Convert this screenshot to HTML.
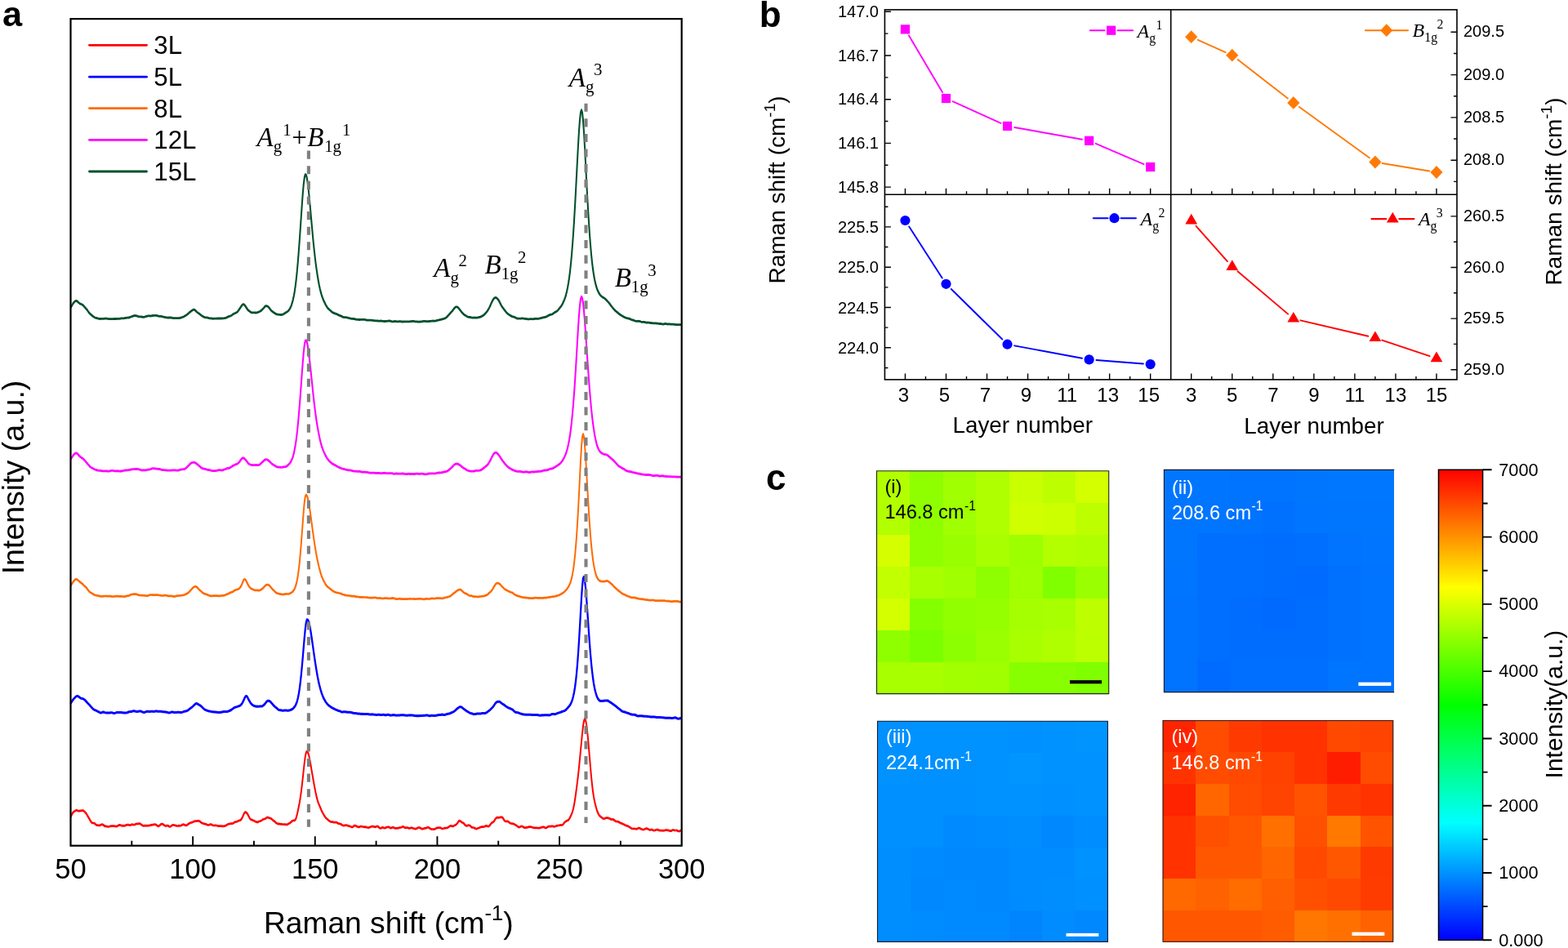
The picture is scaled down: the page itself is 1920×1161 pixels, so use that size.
<!DOCTYPE html>
<html lang="en"><head><meta charset="utf-8"><title>Layer-dependent Raman spectra</title>
<style>html,body{margin:0;padding:0;background:#fff;}body{width:1920px;height:1161px;overflow:hidden;}svg{display:block;}text{white-space:pre;}</style>
</head><body>
<svg width="1920" height="1161" viewBox="0 0 1920 1161">
<rect width="1920" height="1161" fill="#fff"/>
<g id="panel-a">
<path d="M86.5,376.3 87.5,374.6 88.5,372.9 89.5,371.2 90.5,370.0 91.5,368.9 92.5,368.3 93.5,368.0 94.5,368.5 95.5,369.4 96.5,370.5 97.5,371.2 98.5,371.7 99.5,372.1 100.5,372.6 101.5,373.3 102.5,374.3 103.5,375.5 104.5,376.6 105.5,377.7 106.5,378.8 107.4,380.2 108.4,381.7 109.4,383.0 110.4,384.0 111.4,384.9 112.4,385.7 113.4,386.6 114.4,387.3 115.4,388.0 116.4,388.6 117.4,388.9 118.4,389.1 119.4,389.4 120.4,389.8 121.4,390.0 122.4,390.1 123.4,389.9 124.4,389.9 125.4,390.0 126.4,390.0 127.4,389.9 128.4,389.7 129.4,389.6 130.4,389.8 131.4,389.9 132.4,390.0 133.4,390.2 134.4,390.3 135.4,390.3 136.4,390.3 137.4,390.3 138.4,390.2 139.4,390.1 140.4,390.1 141.4,390.1 142.4,390.1 143.4,390.0 144.4,390.0 145.4,390.0 146.4,390.0 147.4,389.7 148.4,389.5 149.3,389.4 150.3,389.4 151.3,389.4 152.3,389.3 153.3,389.1 154.3,388.9 155.3,388.8 156.3,388.8 157.3,388.6 158.3,388.4 159.3,388.0 160.3,387.6 161.3,387.3 162.3,386.9 163.3,386.5 164.3,386.2 165.3,386.1 166.3,386.2 167.3,386.4 168.3,386.8 169.3,387.2 170.3,387.4 171.3,387.5 172.3,387.5 173.3,387.6 174.3,387.8 175.3,388.0 176.3,387.9 177.3,387.6 178.3,387.3 179.3,387.0 180.3,386.8 181.3,386.5 182.3,386.5 183.3,386.5 184.3,386.6 185.3,386.5 186.3,386.3 187.3,386.1 188.3,386.0 189.3,386.0 190.3,386.0 191.2,386.0 192.2,386.1 193.2,386.4 194.2,386.7 195.2,386.9 196.2,386.9 197.2,387.0 198.2,387.2 199.2,387.5 200.2,387.7 201.2,387.9 202.2,388.1 203.2,388.4 204.2,388.5 205.2,388.7 206.2,388.6 207.2,388.6 208.2,388.5 209.2,388.6 210.2,388.8 211.2,389.1 212.2,389.2 213.2,389.3 214.2,389.3 215.2,389.3 216.2,389.2 217.2,389.2 218.2,389.2 219.2,389.3 220.2,389.1 221.2,388.8 222.2,388.4 223.2,388.1 224.2,387.8 225.2,387.3 226.2,386.7 227.2,386.1 228.2,385.5 229.2,384.7 230.2,383.9 231.2,383.0 232.1,382.1 233.1,381.3 234.1,380.6 235.1,379.9 236.1,379.2 237.1,378.8 238.1,378.9 239.1,379.7 240.1,380.7 241.1,381.7 242.1,382.5 243.1,383.2 244.1,383.9 245.1,384.7 246.1,385.5 247.1,386.3 248.1,386.9 249.1,387.5 250.1,388.0 251.1,388.3 252.1,388.4 253.1,388.4 254.1,388.6 255.1,388.9 256.1,389.3 257.1,389.5 258.1,389.5 259.1,389.6 260.1,389.7 261.1,389.9 262.1,389.8 263.1,389.7 264.1,389.7 265.1,389.7 266.1,389.6 267.1,389.5 268.1,389.6 269.1,389.6 270.1,389.6 271.1,389.6 272.1,389.5 273.1,389.5 274.0,389.4 275.0,389.3 276.0,389.0 277.0,388.7 278.0,388.3 279.0,387.7 280.0,387.2 281.0,386.9 282.0,386.6 283.0,386.1 284.0,385.5 285.0,384.7 286.0,384.1 287.0,383.6 288.0,383.1 289.0,382.6 290.0,382.1 291.0,381.2 292.0,379.9 293.0,378.4 294.0,376.9 295.0,375.3 296.0,373.8 297.0,372.6 298.0,372.2 299.0,372.7 300.0,373.8 301.0,375.3 302.0,376.9 303.0,378.5 304.0,379.6 305.0,380.4 306.0,381.1 307.0,381.8 308.0,382.4 309.0,382.5 310.0,382.5 311.0,382.4 312.0,382.5 313.0,382.6 314.0,382.6 315.0,382.3 315.9,382.0 316.9,381.6 317.9,381.2 318.9,380.6 319.9,379.8 320.9,379.0 321.9,377.9 322.9,376.8 323.9,375.5 324.9,374.6 325.9,374.2 326.9,374.4 327.9,374.9 328.9,375.8 329.9,377.0 330.9,378.4 331.9,379.7 332.9,380.6 333.9,381.3 334.9,382.1 335.9,382.8 336.9,383.5 337.9,384.0 338.9,384.4 339.9,384.7 340.9,384.8 341.9,384.9 342.9,385.0 343.9,385.1 344.9,385.1 345.9,384.8 346.9,384.4 347.9,383.8 348.9,383.1 349.9,382.4 350.9,381.9 351.9,381.3 352.9,380.4 353.9,379.2 354.9,377.7 355.9,375.8 356.8,373.5 357.8,370.4 358.8,366.7 359.8,362.0 360.8,356.4 361.8,349.4 362.8,341.0 363.8,331.3 364.8,320.1 365.8,307.6 366.8,293.9 367.8,279.4 368.8,264.5 369.8,249.9 370.8,236.4 371.8,225.0 372.8,217.0 373.8,213.2 374.8,213.8 375.8,217.5 376.8,223.9 377.8,232.3 378.8,242.1 379.8,252.9 380.8,264.3 381.8,275.7 382.8,286.7 383.8,297.1 384.8,306.6 385.8,315.5 386.8,323.5 387.8,330.9 388.8,337.5 389.8,343.5 390.8,348.8 391.8,353.4 392.8,357.4 393.8,360.8 394.8,363.9 395.8,366.5 396.8,368.8 397.8,370.8 398.7,372.7 399.7,374.4 400.7,376.0 401.7,377.3 402.7,378.3 403.7,379.2 404.7,380.0 405.7,381.0 406.7,381.9 407.7,382.5 408.7,383.0 409.7,383.3 410.7,383.7 411.7,384.0 412.7,384.4 413.7,385.0 414.7,385.5 415.7,385.9 416.7,386.3 417.7,386.7 418.7,387.2 419.7,387.7 420.7,388.1 421.7,388.2 422.7,388.2 423.7,388.3 424.7,388.4 425.7,388.7 426.7,389.0 427.7,389.2 428.7,389.4 429.7,389.7 430.7,389.9 431.7,390.0 432.7,390.1 433.7,390.1 434.7,390.4 435.7,390.6 436.7,390.9 437.7,391.0 438.7,391.0 439.7,391.1 440.6,391.1 441.6,391.0 442.6,390.9 443.6,391.0 444.6,391.0 445.6,391.0 446.6,391.0 447.6,391.2 448.6,391.6 449.6,391.8 450.6,391.7 451.6,391.7 452.6,391.7 453.6,391.8 454.6,391.8 455.6,391.9 456.6,392.0 457.6,392.2 458.6,392.3 459.6,392.4 460.6,392.4 461.6,392.5 462.6,392.6 463.6,392.7 464.6,392.7 465.6,392.7 466.6,392.6 467.6,392.7 468.6,392.9 469.6,393.0 470.6,393.1 471.6,393.1 472.6,393.0 473.6,392.9 474.6,392.8 475.6,392.7 476.6,392.6 477.6,392.6 478.6,392.9 479.6,393.2 480.6,393.4 481.5,393.4 482.5,393.2 483.5,393.1 484.5,393.2 485.5,393.3 486.5,393.4 487.5,393.4 488.5,393.3 489.5,393.3 490.5,393.3 491.5,393.5 492.5,393.6 493.5,393.6 494.5,393.5 495.5,393.4 496.5,393.4 497.5,393.4 498.5,393.5 499.5,393.5 500.5,393.5 501.5,393.4 502.5,393.3 503.5,393.2 504.5,393.1 505.5,393.0 506.5,393.0 507.5,393.2 508.5,393.4 509.5,393.5 510.5,393.5 511.5,393.6 512.5,393.7 513.5,393.7 514.5,393.6 515.5,393.5 516.5,393.4 517.5,393.2 518.5,393.0 519.5,392.9 520.5,392.9 521.5,393.1 522.5,393.2 523.4,393.3 524.4,393.2 525.4,393.1 526.4,393.0 527.4,392.9 528.4,392.8 529.4,392.7 530.4,392.6 531.4,392.7 532.4,392.8 533.4,392.6 534.4,392.3 535.4,391.9 536.4,391.7 537.4,391.6 538.4,391.3 539.4,391.1 540.4,390.8 541.4,390.6 542.4,390.3 543.4,390.0 544.4,389.6 545.4,389.2 546.4,388.5 547.4,387.6 548.4,386.5 549.4,385.4 550.4,384.2 551.4,383.1 552.4,382.0 553.4,380.9 554.4,379.7 555.4,378.3 556.4,377.0 557.4,376.0 558.4,375.4 559.4,375.4 560.4,375.9 561.4,376.8 562.4,378.0 563.4,379.3 564.4,380.6 565.3,381.8 566.3,383.0 567.3,384.0 568.3,384.9 569.3,385.6 570.3,386.2 571.3,386.9 572.3,387.4 573.3,387.8 574.3,387.9 575.3,388.1 576.3,388.3 577.3,388.5 578.3,388.7 579.3,388.7 580.3,388.7 581.3,388.6 582.3,388.7 583.3,388.8 584.3,388.7 585.3,388.4 586.3,388.1 587.3,388.0 588.3,387.7 589.3,387.2 590.3,386.7 591.3,386.1 592.3,385.5 593.3,384.5 594.3,383.5 595.3,382.3 596.3,381.1 597.3,379.6 598.3,378.0 599.3,376.1 600.3,374.0 601.3,371.6 602.3,369.4 603.3,367.4 604.3,365.8 605.3,364.7 606.2,364.2 607.2,364.1 608.2,364.7 609.2,365.5 610.2,366.8 611.2,368.4 612.2,370.4 613.2,372.4 614.2,374.2 615.2,375.8 616.2,377.1 617.2,378.5 618.2,379.8 619.2,381.1 620.2,382.3 621.2,383.4 622.2,384.2 623.2,384.9 624.2,385.5 625.2,386.2 626.2,386.7 627.2,387.2 628.2,387.5 629.2,387.7 630.2,388.0 631.2,388.6 632.2,389.2 633.2,389.6 634.2,389.7 635.2,389.7 636.2,389.8 637.2,389.8 638.2,389.7 639.2,389.5 640.2,389.5 641.2,389.7 642.2,389.9 643.2,390.0 644.2,390.1 645.2,390.2 646.2,390.4 647.2,390.5 648.1,390.4 649.1,390.2 650.1,390.2 651.1,390.3 652.1,390.4 653.1,390.3 654.1,390.1 655.1,389.9 656.1,389.8 657.1,389.9 658.1,389.9 659.1,389.9 660.1,389.7 661.1,389.5 662.1,389.2 663.1,388.9 664.1,388.6 665.1,388.5 666.1,388.3 667.1,388.1 668.1,387.8 669.1,387.5 670.1,386.9 671.1,386.3 672.1,385.7 673.1,385.2 674.1,384.9 675.1,384.7 676.1,384.4 677.1,383.8 678.1,383.0 679.1,382.3 680.1,381.7 681.1,381.2 682.1,380.6 683.1,379.6 684.1,378.4 685.1,377.1 686.1,375.8 687.1,374.6 688.1,373.0 689.1,371.2 690.0,369.0 691.0,366.8 692.0,364.1 693.0,360.8 694.0,356.7 695.0,352.0 696.0,346.5 697.0,340.0 698.0,332.1 699.0,322.7 700.0,311.8 701.0,299.6 702.0,285.7 703.0,270.1 704.0,252.8 705.0,234.2 706.0,214.9 707.0,195.5 708.0,176.7 709.0,159.9 710.0,146.3 711.0,137.4 712.0,134.3 713.0,137.5 714.0,147.0 715.0,161.3 716.0,179.2 717.0,198.4 718.0,218.2 719.0,237.2 720.0,255.0 721.0,271.4 722.0,286.3 723.0,299.6 724.0,311.1 725.0,320.9 726.0,329.0 727.0,335.8 728.0,341.4 729.0,346.1 730.0,349.9 730.9,352.9 731.9,355.5 732.9,357.6 733.9,359.4 734.9,360.8 735.9,361.9 736.9,362.8 737.9,363.5 738.9,364.1 739.9,364.7 740.9,365.5 741.9,366.4 742.9,367.5 743.9,368.6 744.9,369.6 745.9,370.8 746.9,372.1 747.9,373.6 748.9,374.9 749.9,376.1 750.9,377.3 751.9,378.5 752.9,379.6 753.9,380.5 754.9,381.3 755.9,382.1 756.9,383.0 757.9,383.9 758.9,384.6 759.9,385.3 760.9,385.9 761.9,386.5 762.9,387.1 763.9,387.7 764.9,388.2 765.9,388.6 766.9,389.0 767.9,389.3 768.9,389.6 769.9,389.7 770.9,390.0 771.9,390.5 772.8,390.9 773.8,391.2 774.8,391.6 775.8,391.8 776.8,392.3 777.8,392.6 778.8,392.9 779.8,393.0 780.8,392.9 781.8,392.8 782.8,392.9 783.8,393.2 784.8,393.6 785.8,393.9 786.8,393.9 787.8,394.0 788.8,394.0 789.8,394.3 790.8,394.6 791.8,394.7 792.8,394.6 793.8,394.7 794.8,394.8 795.8,394.9 796.8,395.1 797.8,395.3 798.8,395.3 799.8,395.4 800.8,395.4 801.8,395.5 802.8,395.5 803.8,395.6 804.8,395.7 805.8,395.8 806.8,395.9 807.8,396.1 808.8,396.1 809.8,396.3 810.8,396.5 811.8,396.7 812.8,396.5 813.8,396.3 814.7,396.1 815.7,396.3 816.7,396.5 817.7,396.6 818.7,396.5 819.7,396.5 820.7,396.6 821.7,396.7 822.7,396.7 823.7,396.7 824.7,396.7 825.7,396.9 826.7,397.0 827.7,397.2 828.7,397.3 829.7,397.3 830.7,397.2 831.7,397.2 832.7,397.2 833.7,397.2 834.7,397.2 M86.5,377.1 87.5,375.4 88.5,373.7 89.5,372.0 90.5,370.8 91.5,369.7 92.5,369.1 93.5,368.8 94.5,369.3 95.5,370.2 96.5,371.3 97.5,372.0 98.5,372.5 99.5,372.9 100.5,373.4 101.5,374.1 102.5,375.1 103.5,376.3 104.5,377.4 105.5,378.5 106.5,379.6 107.4,381.0 108.4,382.5 109.4,383.8 110.4,384.8 111.4,385.7 112.4,386.5 113.4,387.4 114.4,388.1 115.4,388.8 116.4,389.4 117.4,389.7 118.4,389.9 119.4,390.2 120.4,390.6 121.4,390.8 122.4,390.9 123.4,390.7 124.4,390.7 125.4,390.8 126.4,390.8 127.4,390.7 128.4,390.5 129.4,390.4 130.4,390.6 131.4,390.7 132.4,390.8 133.4,391.0 134.4,391.1 135.4,391.1 136.4,391.1 137.4,391.1 138.4,391.0 139.4,390.9 140.4,390.9 141.4,390.9 142.4,390.9 143.4,390.8 144.4,390.8 145.4,390.8 146.4,390.8 147.4,390.5 148.4,390.3 149.3,390.2 150.3,390.2 151.3,390.2 152.3,390.1 153.3,389.9 154.3,389.7 155.3,389.6 156.3,389.6 157.3,389.4 158.3,389.2 159.3,388.8 160.3,388.4 161.3,388.1 162.3,387.7 163.3,387.3 164.3,387.0 165.3,386.9 166.3,387.0 167.3,387.2 168.3,387.6 169.3,388.0 170.3,388.2 171.3,388.3 172.3,388.3 173.3,388.4 174.3,388.6 175.3,388.8 176.3,388.7 177.3,388.4 178.3,388.1 179.3,387.8 180.3,387.6 181.3,387.3 182.3,387.3 183.3,387.3 184.3,387.4 185.3,387.3 186.3,387.1 187.3,386.9 188.3,386.8 189.3,386.8 190.3,386.8 191.2,386.8 192.2,386.9 193.2,387.2 194.2,387.5 195.2,387.7 196.2,387.7 197.2,387.8 198.2,388.0 199.2,388.3 200.2,388.5 201.2,388.7 202.2,388.9 203.2,389.2 204.2,389.3 205.2,389.5 206.2,389.4 207.2,389.4 208.2,389.3 209.2,389.4 210.2,389.6 211.2,389.9 212.2,390.0 213.2,390.1 214.2,390.1 215.2,390.1 216.2,390.0 217.2,390.0 218.2,390.0 219.2,390.1 220.2,389.9 221.2,389.6 222.2,389.2 223.2,388.9 224.2,388.6 225.2,388.1 226.2,387.5 227.2,386.9 228.2,386.3 229.2,385.5 230.2,384.7 231.2,383.8 232.1,382.9 233.1,382.1 234.1,381.4 235.1,380.7 236.1,380.0 237.1,379.6 238.1,379.7 239.1,380.5 240.1,381.5 241.1,382.5 242.1,383.3 243.1,384.0 244.1,384.7 245.1,385.5 246.1,386.3 247.1,387.1 248.1,387.7 249.1,388.3 250.1,388.8 251.1,389.1 252.1,389.2 253.1,389.2 254.1,389.4 255.1,389.7 256.1,390.1 257.1,390.3 258.1,390.3 259.1,390.4 260.1,390.5 261.1,390.7 262.1,390.6 263.1,390.5 264.1,390.5 265.1,390.5 266.1,390.4 267.1,390.3 268.1,390.4 269.1,390.4 270.1,390.4 271.1,390.4 272.1,390.3 273.1,390.3 274.0,390.2 275.0,390.1 276.0,389.8 277.0,389.5 278.0,389.1 279.0,388.5 280.0,388.0 281.0,387.7 282.0,387.4 283.0,386.9 284.0,386.3 285.0,385.5 286.0,384.9 287.0,384.4 288.0,383.9 289.0,383.4 290.0,382.9 291.0,382.0 292.0,380.7 293.0,379.2 294.0,377.7 295.0,376.1 296.0,374.6 297.0,373.4 298.0,373.0 299.0,373.5 300.0,374.6 301.0,376.1 302.0,377.7 303.0,379.3 304.0,380.4 305.0,381.2 306.0,381.9 307.0,382.6 308.0,383.2 309.0,383.3 310.0,383.3 311.0,383.2 312.0,383.3 313.0,383.4 314.0,383.4 315.0,383.1 315.9,382.8 316.9,382.4 317.9,382.0 318.9,381.4 319.9,380.6 320.9,379.8 321.9,378.7 322.9,377.6 323.9,376.3 324.9,375.4 325.9,375.0 326.9,375.2 327.9,375.7 328.9,376.6 329.9,377.8 330.9,379.2 331.9,380.5 332.9,381.4 333.9,382.1 334.9,382.9 335.9,383.6 336.9,384.3 337.9,384.8 338.9,385.2 339.9,385.5 340.9,385.6 341.9,385.7 342.9,385.8 343.9,385.9 344.9,385.9 345.9,385.6 346.9,385.2 347.9,384.6 348.9,383.9 349.9,383.2 350.9,382.7 351.9,382.1 352.9,381.2 353.9,380.0 354.9,378.5 355.9,376.6 356.8,374.3 357.8,371.2 358.8,367.5 359.8,362.8 360.8,357.2 361.8,350.2 362.8,341.8 363.8,332.1 364.8,320.9 365.8,308.4 366.8,294.7 367.8,280.2 368.8,265.3 369.8,250.7 370.8,237.2 371.8,225.8 372.8,217.8 373.8,214.0 374.8,214.6 375.8,218.3 376.8,224.7 377.8,233.1 378.8,242.9 379.8,253.7 380.8,265.1 381.8,276.5 382.8,287.5 383.8,297.9 384.8,307.4 385.8,316.3 386.8,324.3 387.8,331.7 388.8,338.3 389.8,344.3 390.8,349.6 391.8,354.2 392.8,358.2 393.8,361.6 394.8,364.7 395.8,367.3 396.8,369.6 397.8,371.6 398.7,373.5 399.7,375.2 400.7,376.8 401.7,378.1 402.7,379.1 403.7,380.0 404.7,380.8 405.7,381.8 406.7,382.7 407.7,383.3 408.7,383.8 409.7,384.1 410.7,384.5 411.7,384.8 412.7,385.2 413.7,385.8 414.7,386.3 415.7,386.7 416.7,387.1 417.7,387.5 418.7,388.0 419.7,388.5 420.7,388.9 421.7,389.0 422.7,389.0 423.7,389.1 424.7,389.2 425.7,389.5 426.7,389.8 427.7,390.0 428.7,390.2 429.7,390.5 430.7,390.7 431.7,390.8 432.7,390.9 433.7,390.9 434.7,391.2 435.7,391.4 436.7,391.7 437.7,391.8 438.7,391.8 439.7,391.9 440.6,391.9 441.6,391.8 442.6,391.7 443.6,391.8 444.6,391.8 445.6,391.8 446.6,391.8 447.6,392.0 448.6,392.4 449.6,392.6 450.6,392.5 451.6,392.5 452.6,392.5 453.6,392.6 454.6,392.6 455.6,392.7 456.6,392.8 457.6,393.0 458.6,393.1 459.6,393.2 460.6,393.2 461.6,393.3 462.6,393.4 463.6,393.5 464.6,393.5 465.6,393.5 466.6,393.4 467.6,393.5 468.6,393.7 469.6,393.8 470.6,393.9 471.6,393.9 472.6,393.8 473.6,393.7 474.6,393.6 475.6,393.5 476.6,393.4 477.6,393.4 478.6,393.7 479.6,394.0 480.6,394.2 481.5,394.2 482.5,394.0 483.5,393.9 484.5,394.0 485.5,394.1 486.5,394.2 487.5,394.2 488.5,394.1 489.5,394.1 490.5,394.1 491.5,394.3 492.5,394.4 493.5,394.4 494.5,394.3 495.5,394.2 496.5,394.2 497.5,394.2 498.5,394.3 499.5,394.3 500.5,394.3 501.5,394.2 502.5,394.1 503.5,394.0 504.5,393.9 505.5,393.8 506.5,393.8 507.5,394.0 508.5,394.2 509.5,394.3 510.5,394.3 511.5,394.4 512.5,394.5 513.5,394.5 514.5,394.4 515.5,394.3 516.5,394.2 517.5,394.0 518.5,393.8 519.5,393.7 520.5,393.7 521.5,393.9 522.5,394.0 523.4,394.1 524.4,394.0 525.4,393.9 526.4,393.8 527.4,393.7 528.4,393.6 529.4,393.5 530.4,393.4 531.4,393.5 532.4,393.6 533.4,393.4 534.4,393.1 535.4,392.7 536.4,392.5 537.4,392.4 538.4,392.1 539.4,391.9 540.4,391.6 541.4,391.4 542.4,391.1 543.4,390.8 544.4,390.4 545.4,390.0 546.4,389.3 547.4,388.4 548.4,387.3 549.4,386.2 550.4,385.0 551.4,383.9 552.4,382.8 553.4,381.7 554.4,380.5 555.4,379.1 556.4,377.8 557.4,376.8 558.4,376.2 559.4,376.2 560.4,376.7 561.4,377.6 562.4,378.8 563.4,380.1 564.4,381.4 565.3,382.6 566.3,383.8 567.3,384.8 568.3,385.7 569.3,386.4 570.3,387.0 571.3,387.7 572.3,388.2 573.3,388.6 574.3,388.7 575.3,388.9 576.3,389.1 577.3,389.3 578.3,389.5 579.3,389.5 580.3,389.5 581.3,389.4 582.3,389.5 583.3,389.6 584.3,389.5 585.3,389.2 586.3,388.9 587.3,388.8 588.3,388.5 589.3,388.0 590.3,387.5 591.3,386.9 592.3,386.3 593.3,385.3 594.3,384.3 595.3,383.1 596.3,381.9 597.3,380.4 598.3,378.8 599.3,376.9 600.3,374.8 601.3,372.4 602.3,370.2 603.3,368.2 604.3,366.6 605.3,365.5 606.2,365.0 607.2,364.9 608.2,365.5 609.2,366.3 610.2,367.6 611.2,369.2 612.2,371.2 613.2,373.2 614.2,375.0 615.2,376.6 616.2,377.9 617.2,379.3 618.2,380.6 619.2,381.9 620.2,383.1 621.2,384.2 622.2,385.0 623.2,385.7 624.2,386.3 625.2,387.0 626.2,387.5 627.2,388.0 628.2,388.3 629.2,388.5 630.2,388.8 631.2,389.4 632.2,390.0 633.2,390.4 634.2,390.5 635.2,390.5 636.2,390.6 637.2,390.6 638.2,390.5 639.2,390.3 640.2,390.3 641.2,390.5 642.2,390.7 643.2,390.8 644.2,390.9 645.2,391.0 646.2,391.2 647.2,391.3 648.1,391.2 649.1,391.0 650.1,391.0 651.1,391.1 652.1,391.2 653.1,391.1 654.1,390.9 655.1,390.7 656.1,390.6 657.1,390.7 658.1,390.7 659.1,390.7 660.1,390.5 661.1,390.3 662.1,390.0 663.1,389.7 664.1,389.4 665.1,389.3 666.1,389.1 667.1,388.9 668.1,388.6 669.1,388.3 670.1,387.7 671.1,387.1 672.1,386.5 673.1,386.0 674.1,385.7 675.1,385.5 676.1,385.2 677.1,384.6 678.1,383.8 679.1,383.1 680.1,382.5 681.1,382.0 682.1,381.4 683.1,380.4 684.1,379.2 685.1,377.9 686.1,376.6 687.1,375.4 688.1,373.8 689.1,372.0 690.0,369.8 691.0,367.6 692.0,364.9 693.0,361.6 694.0,357.5 695.0,352.8 696.0,347.3 697.0,340.8 698.0,332.9 699.0,323.5 700.0,312.6 701.0,300.4 702.0,286.5 703.0,270.9 704.0,253.6 705.0,235.0 706.0,215.7 707.0,196.3 708.0,177.5 709.0,160.7 710.0,147.1 711.0,138.2 712.0,135.1 713.0,138.3 714.0,147.8 715.0,162.1 716.0,180.0 717.0,199.2 718.0,219.0 719.0,238.0 720.0,255.8 721.0,272.2 722.0,287.1 723.0,300.4 724.0,311.9 725.0,321.7 726.0,329.8 727.0,336.6 728.0,342.2 729.0,346.9 730.0,350.7 730.9,353.7 731.9,356.3 732.9,358.4 733.9,360.2 734.9,361.6 735.9,362.7 736.9,363.6 737.9,364.3 738.9,364.9 739.9,365.5 740.9,366.3 741.9,367.2 742.9,368.3 743.9,369.4 744.9,370.4 745.9,371.6 746.9,372.9 747.9,374.4 748.9,375.7 749.9,376.9 750.9,378.1 751.9,379.3 752.9,380.4 753.9,381.3 754.9,382.1 755.9,382.9 756.9,383.8 757.9,384.7 758.9,385.4 759.9,386.1 760.9,386.7 761.9,387.3 762.9,387.9 763.9,388.5 764.9,389.0 765.9,389.4 766.9,389.8 767.9,390.1 768.9,390.4 769.9,390.5 770.9,390.8 771.9,391.3 772.8,391.7 773.8,392.0 774.8,392.4 775.8,392.6 776.8,393.1 777.8,393.4 778.8,393.7 779.8,393.8 780.8,393.7 781.8,393.6 782.8,393.7 783.8,394.0 784.8,394.4 785.8,394.7 786.8,394.7 787.8,394.8 788.8,394.8 789.8,395.1 790.8,395.4 791.8,395.5 792.8,395.4 793.8,395.5 794.8,395.6 795.8,395.7 796.8,395.9 797.8,396.1 798.8,396.1 799.8,396.2 800.8,396.2 801.8,396.3 802.8,396.3 803.8,396.4 804.8,396.5 805.8,396.6 806.8,396.7 807.8,396.9 808.8,396.9 809.8,397.1 810.8,397.3 811.8,397.5 812.8,397.3 813.8,397.1 814.7,396.9 815.7,397.1 816.7,397.3 817.7,397.4 818.7,397.3 819.7,397.3 820.7,397.4 821.7,397.5 822.7,397.5 823.7,397.5 824.7,397.5 825.7,397.7 826.7,397.8 827.7,398.0 828.7,398.1 829.7,398.1 830.7,398.0 831.7,398.0 832.7,398.0 833.7,398.0 834.7,398.0" fill="none" stroke="#00502d" stroke-width="2" stroke-linejoin="round"/>
<path d="M86.5,561.9 87.5,560.5 88.5,559.0 89.5,557.5 90.5,556.2 91.5,555.2 92.5,554.7 93.5,554.5 94.5,554.9 95.5,556.0 96.5,557.2 97.5,558.4 98.5,559.2 99.5,560.0 100.5,560.5 101.5,561.3 102.5,562.1 103.5,563.2 104.5,564.3 105.5,565.6 106.5,566.7 107.4,567.8 108.4,568.9 109.4,570.2 110.4,571.2 111.4,572.0 112.4,572.6 113.4,573.1 114.4,573.6 115.4,574.2 116.4,574.6 117.4,574.9 118.4,575.3 119.4,575.7 120.4,575.8 121.4,575.9 122.4,575.9 123.4,576.1 124.4,576.3 125.4,576.5 126.4,576.5 127.4,576.4 128.4,576.4 129.4,576.4 130.4,576.5 131.4,576.6 132.4,576.7 133.4,576.7 134.4,576.5 135.4,576.2 136.4,576.0 137.4,576.0 138.4,576.0 139.4,576.2 140.4,576.4 141.4,576.5 142.4,576.4 143.4,576.3 144.4,576.4 145.4,576.5 146.4,576.7 147.4,576.6 148.4,576.6 149.3,576.4 150.3,576.2 151.3,575.9 152.3,575.8 153.3,575.6 154.3,575.6 155.3,575.5 156.3,575.5 157.3,575.3 158.3,575.2 159.3,574.8 160.3,574.6 161.3,574.4 162.3,574.3 163.3,574.2 164.3,574.2 165.3,574.1 166.3,574.1 167.3,574.0 168.3,574.1 169.3,574.3 170.3,574.5 171.3,574.8 172.3,575.1 173.3,575.5 174.3,575.6 175.3,575.5 176.3,575.3 177.3,575.4 178.3,575.4 179.3,575.3 180.3,575.0 181.3,574.7 182.3,574.6 183.3,574.4 184.3,574.2 185.3,573.8 186.3,573.4 187.3,573.3 188.3,573.3 189.3,573.5 190.3,573.6 191.2,573.7 192.2,573.8 193.2,573.9 194.2,573.9 195.2,574.1 196.2,574.3 197.2,574.7 198.2,575.0 199.2,575.2 200.2,575.2 201.2,575.3 202.2,575.4 203.2,575.5 204.2,575.6 205.2,575.7 206.2,575.8 207.2,575.8 208.2,575.8 209.2,575.7 210.2,575.5 211.2,575.5 212.2,575.4 213.2,575.4 214.2,575.4 215.2,575.5 216.2,575.7 217.2,575.7 218.2,575.6 219.2,575.4 220.2,575.1 221.2,574.8 222.2,574.5 223.2,574.4 224.2,574.3 225.2,574.2 226.2,573.9 227.2,573.3 228.2,572.4 229.2,571.4 230.2,570.5 231.2,569.5 232.1,568.5 233.1,567.4 234.1,566.7 235.1,566.2 236.1,566.0 237.1,565.9 238.1,566.0 239.1,566.4 240.1,567.0 241.1,567.8 242.1,568.7 243.1,569.5 244.1,570.4 245.1,571.2 246.1,572.1 247.1,572.9 248.1,573.4 249.1,573.6 250.1,573.8 251.1,573.9 252.1,574.3 253.1,574.6 254.1,575.0 255.1,575.1 256.1,575.2 257.1,575.4 258.1,575.7 259.1,576.0 260.1,576.2 261.1,576.3 262.1,576.3 263.1,576.2 264.1,576.1 265.1,576.0 266.1,575.8 267.1,575.5 268.1,575.3 269.1,575.2 270.1,575.4 271.1,575.5 272.1,575.6 273.1,575.3 274.0,574.8 275.0,574.4 276.0,574.1 277.0,573.7 278.0,573.3 279.0,573.1 280.0,572.9 281.0,572.7 282.0,572.2 283.0,571.5 284.0,570.8 285.0,570.2 286.0,569.7 287.0,569.1 288.0,568.6 289.0,568.2 290.0,567.9 291.0,567.3 292.0,566.5 293.0,565.4 294.0,564.0 295.0,562.6 296.0,561.4 297.0,560.6 298.0,560.5 299.0,561.0 300.0,561.9 301.0,563.1 302.0,564.4 303.0,565.7 304.0,566.9 305.0,567.9 306.0,568.4 307.0,568.7 308.0,568.9 309.0,569.1 310.0,569.3 311.0,569.2 312.0,569.2 313.0,569.1 314.0,569.1 315.0,569.2 315.9,569.2 316.9,569.0 317.9,568.6 318.9,567.7 319.9,566.8 320.9,565.8 321.9,564.9 322.9,563.9 323.9,563.0 324.9,562.4 325.9,562.2 326.9,562.4 327.9,562.9 328.9,563.7 329.9,564.6 330.9,565.5 331.9,566.6 332.9,567.6 333.9,568.4 334.9,568.9 335.9,569.5 336.9,570.1 337.9,570.8 338.9,571.3 339.9,571.6 340.9,571.7 341.9,571.7 342.9,571.8 343.9,571.9 344.9,571.9 345.9,571.8 346.9,571.6 347.9,571.4 348.9,571.3 349.9,571.2 350.9,570.7 351.9,569.9 352.9,568.9 353.9,568.0 354.9,566.9 355.9,565.4 356.8,563.5 357.8,561.3 358.8,558.5 359.8,554.7 360.8,550.0 361.8,544.4 362.8,537.6 363.8,529.4 364.8,519.6 365.8,508.6 366.8,496.5 367.8,483.6 368.8,470.0 369.8,456.1 370.8,442.8 371.8,431.1 372.8,422.1 373.8,417.0 374.8,416.3 375.8,418.6 376.8,423.3 377.8,430.1 378.8,438.2 379.8,447.1 380.8,456.4 381.8,466.0 382.8,475.7 383.8,485.1 384.8,494.0 385.8,502.2 386.8,509.7 387.8,516.5 388.8,522.6 389.8,528.2 390.8,533.3 391.8,538.0 392.8,542.0 393.8,545.6 394.8,548.6 395.8,551.3 396.8,553.6 397.8,555.7 398.7,557.6 399.7,559.4 400.7,561.0 401.7,562.4 402.7,563.6 403.7,564.7 404.7,565.6 405.7,566.6 406.7,567.3 407.7,568.0 408.7,568.5 409.7,569.0 410.7,569.5 411.7,570.1 412.7,570.7 413.7,571.3 414.7,571.8 415.7,572.2 416.7,572.6 417.7,573.1 418.7,573.4 419.7,573.7 420.7,573.9 421.7,574.2 422.7,574.5 423.7,574.7 424.7,575.0 425.7,575.2 426.7,575.4 427.7,575.5 428.7,575.5 429.7,575.7 430.7,575.9 431.7,576.2 432.7,576.5 433.7,576.7 434.7,576.8 435.7,576.8 436.7,576.9 437.7,577.0 438.7,576.9 439.7,576.8 440.6,576.9 441.6,577.2 442.6,577.6 443.6,577.7 444.6,577.8 445.6,577.7 446.6,577.8 447.6,577.8 448.6,577.9 449.6,578.0 450.6,578.2 451.6,578.4 452.6,578.6 453.6,578.7 454.6,578.7 455.6,578.8 456.6,578.8 457.6,578.8 458.6,578.8 459.6,578.9 460.6,579.0 461.6,579.0 462.6,578.9 463.6,578.9 464.6,579.0 465.6,579.2 466.6,579.2 467.6,579.2 468.6,579.0 469.6,578.9 470.6,578.8 471.6,578.9 472.6,579.2 473.6,579.3 474.6,579.3 475.6,579.3 476.6,579.3 477.6,579.3 478.6,579.2 479.6,579.2 480.6,579.3 481.5,579.7 482.5,579.9 483.5,579.8 484.5,579.6 485.5,579.5 486.5,579.6 487.5,579.7 488.5,579.7 489.5,579.8 490.5,579.7 491.5,579.7 492.5,579.5 493.5,579.6 494.5,579.7 495.5,580.0 496.5,580.2 497.5,580.2 498.5,580.1 499.5,579.9 500.5,579.8 501.5,579.9 502.5,580.1 503.5,580.1 504.5,580.0 505.5,579.9 506.5,580.1 507.5,580.1 508.5,580.0 509.5,579.7 510.5,579.7 511.5,579.8 512.5,580.0 513.5,580.0 514.5,580.0 515.5,579.8 516.5,579.8 517.5,579.8 518.5,580.0 519.5,580.2 520.5,580.4 521.5,580.4 522.5,580.3 523.4,580.0 524.4,579.7 525.4,579.6 526.4,579.5 527.4,579.5 528.4,579.5 529.4,579.5 530.4,579.5 531.4,579.5 532.4,579.5 533.4,579.4 534.4,579.1 535.4,578.8 536.4,578.7 537.4,578.6 538.4,578.6 539.4,578.5 540.4,578.4 541.4,578.1 542.4,577.9 543.4,577.7 544.4,577.5 545.4,577.3 546.4,577.1 547.4,576.8 548.4,576.2 549.4,575.4 550.4,574.4 551.4,573.5 552.4,572.7 553.4,571.8 554.4,570.8 555.4,569.6 556.4,568.6 557.4,568.0 558.4,567.7 559.4,567.6 560.4,567.8 561.4,568.2 562.4,568.7 563.4,569.4 564.4,570.2 565.3,571.1 566.3,571.9 567.3,572.5 568.3,573.1 569.3,573.6 570.3,574.3 571.3,575.0 572.3,575.6 573.3,576.0 574.3,576.2 575.3,576.5 576.3,576.7 577.3,576.7 578.3,576.8 579.3,576.8 580.3,576.8 581.3,576.4 582.3,576.0 583.3,575.9 584.3,575.9 585.3,576.0 586.3,575.9 587.3,575.8 588.3,575.4 589.3,575.0 590.3,574.4 591.3,573.6 592.3,572.8 593.3,572.0 594.3,571.2 595.3,570.4 596.3,569.4 597.3,568.4 598.3,567.0 599.3,565.3 600.3,563.4 601.3,561.4 602.3,559.4 603.3,557.5 604.3,555.8 605.3,554.7 606.2,553.9 607.2,553.9 608.2,554.3 609.2,555.1 610.2,556.2 611.2,557.5 612.2,559.0 613.2,560.6 614.2,562.1 615.2,563.6 616.2,564.9 617.2,566.2 618.2,567.5 619.2,568.6 620.2,569.7 621.2,570.7 622.2,571.6 623.2,572.4 624.2,573.0 625.2,573.6 626.2,574.2 627.2,574.7 628.2,575.2 629.2,575.6 630.2,576.0 631.2,576.4 632.2,576.6 633.2,576.9 634.2,576.9 635.2,576.9 636.2,576.9 637.2,577.1 638.2,577.3 639.2,577.5 640.2,577.7 641.2,577.8 642.2,577.7 643.2,577.5 644.2,577.3 645.2,577.4 646.2,577.8 647.2,578.1 648.1,578.1 649.1,578.0 650.1,577.7 651.1,577.5 652.1,577.5 653.1,577.6 654.1,577.5 655.1,577.4 656.1,577.3 657.1,577.3 658.1,577.1 659.1,577.0 660.1,576.8 661.1,576.9 662.1,576.8 663.1,576.7 664.1,576.3 665.1,575.9 666.1,575.6 667.1,575.6 668.1,575.6 669.1,575.5 670.1,575.3 671.1,574.9 672.1,574.5 673.1,574.1 674.1,573.8 675.1,573.6 676.1,573.4 677.1,573.0 678.1,572.5 679.1,571.9 680.1,571.3 681.1,570.7 682.1,570.0 683.1,569.3 684.1,568.6 685.1,567.8 686.1,567.0 687.1,565.9 688.1,564.6 689.1,563.1 690.0,561.5 691.0,559.6 692.0,557.4 693.0,554.9 694.0,551.9 695.0,548.2 696.0,543.8 697.0,538.5 698.0,532.3 699.0,525.0 700.0,516.3 701.0,506.2 702.0,494.7 703.0,481.7 704.0,467.2 705.0,451.4 706.0,434.5 707.0,417.3 708.0,400.7 709.0,385.8 710.0,373.8 711.0,365.8 712.0,362.9 713.0,364.8 714.0,370.7 715.0,380.2 716.0,392.5 717.0,406.4 718.0,421.0 719.0,435.7 720.0,450.1 721.0,464.0 722.0,477.1 723.0,489.2 724.0,499.9 725.0,509.4 726.0,517.7 727.0,524.9 728.0,531.2 729.0,536.5 730.0,541.0 730.9,544.7 731.9,547.5 732.9,549.7 733.9,551.5 734.9,552.9 735.9,553.9 736.9,554.7 737.9,555.1 738.9,555.6 739.9,556.0 740.9,556.2 741.9,556.3 742.9,556.6 743.9,557.2 744.9,558.0 745.9,558.9 746.9,559.7 747.9,560.6 748.9,561.5 749.9,562.3 750.9,563.2 751.9,564.2 752.9,565.3 753.9,566.4 754.9,567.5 755.9,568.6 756.9,569.7 757.9,570.6 758.9,571.2 759.9,571.8 760.9,572.4 761.9,573.0 762.9,573.5 763.9,574.0 764.9,574.6 765.9,575.4 766.9,576.1 767.9,576.4 768.9,576.6 769.9,576.9 770.9,577.1 771.9,577.3 772.8,577.5 773.8,577.8 774.8,578.1 775.8,578.4 776.8,578.4 777.8,578.6 778.8,578.9 779.8,579.3 780.8,579.4 781.8,579.6 782.8,579.8 783.8,580.1 784.8,580.3 785.8,580.5 786.8,580.7 787.8,580.7 788.8,580.9 789.8,581.0 790.8,581.1 791.8,581.1 792.8,581.1 793.8,581.1 794.8,581.1 795.8,581.2 796.8,581.5 797.8,581.8 798.8,582.1 799.8,582.2 800.8,582.2 801.8,582.1 802.8,582.0 803.8,581.8 804.8,581.9 805.8,582.1 806.8,582.4 807.8,582.8 808.8,582.7 809.8,582.5 810.8,582.3 811.8,582.4 812.8,582.6 813.8,582.9 814.7,583.0 815.7,583.1 816.7,583.1 817.7,583.2 818.7,583.2 819.7,583.2 820.7,583.2 821.7,583.3 822.7,583.4 823.7,583.5 824.7,583.5 825.7,583.4 826.7,583.4 827.7,583.5 828.7,583.7 829.7,583.8 830.7,583.8 831.7,583.8 832.7,583.8 833.7,583.8 834.7,583.9 M86.5,562.7 87.5,561.3 88.5,559.8 89.5,558.3 90.5,557.0 91.5,556.0 92.5,555.5 93.5,555.3 94.5,555.7 95.5,556.8 96.5,558.0 97.5,559.2 98.5,560.0 99.5,560.8 100.5,561.3 101.5,562.1 102.5,562.9 103.5,564.0 104.5,565.1 105.5,566.4 106.5,567.5 107.4,568.6 108.4,569.7 109.4,571.0 110.4,572.0 111.4,572.8 112.4,573.4 113.4,573.9 114.4,574.4 115.4,575.0 116.4,575.4 117.4,575.7 118.4,576.1 119.4,576.5 120.4,576.6 121.4,576.7 122.4,576.7 123.4,576.9 124.4,577.1 125.4,577.3 126.4,577.3 127.4,577.2 128.4,577.2 129.4,577.2 130.4,577.3 131.4,577.4 132.4,577.5 133.4,577.5 134.4,577.3 135.4,577.0 136.4,576.8 137.4,576.8 138.4,576.8 139.4,577.0 140.4,577.2 141.4,577.3 142.4,577.2 143.4,577.1 144.4,577.2 145.4,577.3 146.4,577.5 147.4,577.4 148.4,577.4 149.3,577.2 150.3,577.0 151.3,576.7 152.3,576.6 153.3,576.4 154.3,576.4 155.3,576.3 156.3,576.3 157.3,576.1 158.3,576.0 159.3,575.6 160.3,575.4 161.3,575.2 162.3,575.1 163.3,575.0 164.3,575.0 165.3,574.9 166.3,574.9 167.3,574.8 168.3,574.9 169.3,575.1 170.3,575.3 171.3,575.6 172.3,575.9 173.3,576.3 174.3,576.4 175.3,576.3 176.3,576.1 177.3,576.2 178.3,576.2 179.3,576.1 180.3,575.8 181.3,575.5 182.3,575.4 183.3,575.2 184.3,575.0 185.3,574.6 186.3,574.2 187.3,574.1 188.3,574.1 189.3,574.3 190.3,574.4 191.2,574.5 192.2,574.6 193.2,574.7 194.2,574.7 195.2,574.9 196.2,575.1 197.2,575.5 198.2,575.8 199.2,576.0 200.2,576.0 201.2,576.1 202.2,576.2 203.2,576.3 204.2,576.4 205.2,576.5 206.2,576.6 207.2,576.6 208.2,576.6 209.2,576.5 210.2,576.3 211.2,576.3 212.2,576.2 213.2,576.2 214.2,576.2 215.2,576.3 216.2,576.5 217.2,576.5 218.2,576.4 219.2,576.2 220.2,575.9 221.2,575.6 222.2,575.3 223.2,575.2 224.2,575.1 225.2,575.0 226.2,574.7 227.2,574.1 228.2,573.2 229.2,572.2 230.2,571.3 231.2,570.3 232.1,569.3 233.1,568.2 234.1,567.5 235.1,567.0 236.1,566.8 237.1,566.7 238.1,566.8 239.1,567.2 240.1,567.8 241.1,568.6 242.1,569.5 243.1,570.3 244.1,571.2 245.1,572.0 246.1,572.9 247.1,573.7 248.1,574.2 249.1,574.4 250.1,574.6 251.1,574.7 252.1,575.1 253.1,575.4 254.1,575.8 255.1,575.9 256.1,576.0 257.1,576.2 258.1,576.5 259.1,576.8 260.1,577.0 261.1,577.1 262.1,577.1 263.1,577.0 264.1,576.9 265.1,576.8 266.1,576.6 267.1,576.3 268.1,576.1 269.1,576.0 270.1,576.2 271.1,576.3 272.1,576.4 273.1,576.1 274.0,575.6 275.0,575.2 276.0,574.9 277.0,574.5 278.0,574.1 279.0,573.9 280.0,573.7 281.0,573.5 282.0,573.0 283.0,572.3 284.0,571.6 285.0,571.0 286.0,570.5 287.0,569.9 288.0,569.4 289.0,569.0 290.0,568.7 291.0,568.1 292.0,567.3 293.0,566.2 294.0,564.8 295.0,563.4 296.0,562.2 297.0,561.4 298.0,561.3 299.0,561.8 300.0,562.7 301.0,563.9 302.0,565.2 303.0,566.5 304.0,567.7 305.0,568.7 306.0,569.2 307.0,569.5 308.0,569.7 309.0,569.9 310.0,570.1 311.0,570.0 312.0,570.0 313.0,569.9 314.0,569.9 315.0,570.0 315.9,570.0 316.9,569.8 317.9,569.4 318.9,568.5 319.9,567.6 320.9,566.6 321.9,565.7 322.9,564.7 323.9,563.8 324.9,563.2 325.9,563.0 326.9,563.2 327.9,563.7 328.9,564.5 329.9,565.4 330.9,566.3 331.9,567.4 332.9,568.4 333.9,569.2 334.9,569.7 335.9,570.3 336.9,570.9 337.9,571.6 338.9,572.1 339.9,572.4 340.9,572.5 341.9,572.5 342.9,572.6 343.9,572.7 344.9,572.7 345.9,572.6 346.9,572.4 347.9,572.2 348.9,572.1 349.9,572.0 350.9,571.5 351.9,570.7 352.9,569.7 353.9,568.8 354.9,567.7 355.9,566.2 356.8,564.3 357.8,562.1 358.8,559.3 359.8,555.5 360.8,550.8 361.8,545.2 362.8,538.4 363.8,530.2 364.8,520.4 365.8,509.4 366.8,497.3 367.8,484.4 368.8,470.8 369.8,456.9 370.8,443.6 371.8,431.9 372.8,422.9 373.8,417.8 374.8,417.1 375.8,419.4 376.8,424.1 377.8,430.9 378.8,439.0 379.8,447.9 380.8,457.2 381.8,466.8 382.8,476.5 383.8,485.9 384.8,494.8 385.8,503.0 386.8,510.5 387.8,517.3 388.8,523.4 389.8,529.0 390.8,534.1 391.8,538.8 392.8,542.8 393.8,546.4 394.8,549.4 395.8,552.1 396.8,554.4 397.8,556.5 398.7,558.4 399.7,560.2 400.7,561.8 401.7,563.2 402.7,564.4 403.7,565.5 404.7,566.4 405.7,567.4 406.7,568.1 407.7,568.8 408.7,569.3 409.7,569.8 410.7,570.3 411.7,570.9 412.7,571.5 413.7,572.1 414.7,572.6 415.7,573.0 416.7,573.4 417.7,573.9 418.7,574.2 419.7,574.5 420.7,574.7 421.7,575.0 422.7,575.3 423.7,575.5 424.7,575.8 425.7,576.0 426.7,576.2 427.7,576.3 428.7,576.3 429.7,576.5 430.7,576.7 431.7,577.0 432.7,577.3 433.7,577.5 434.7,577.6 435.7,577.6 436.7,577.7 437.7,577.8 438.7,577.7 439.7,577.6 440.6,577.7 441.6,578.0 442.6,578.4 443.6,578.5 444.6,578.6 445.6,578.5 446.6,578.6 447.6,578.6 448.6,578.7 449.6,578.8 450.6,579.0 451.6,579.2 452.6,579.4 453.6,579.5 454.6,579.5 455.6,579.6 456.6,579.6 457.6,579.6 458.6,579.6 459.6,579.7 460.6,579.8 461.6,579.8 462.6,579.7 463.6,579.7 464.6,579.8 465.6,580.0 466.6,580.0 467.6,580.0 468.6,579.8 469.6,579.7 470.6,579.6 471.6,579.7 472.6,580.0 473.6,580.1 474.6,580.1 475.6,580.1 476.6,580.1 477.6,580.1 478.6,580.0 479.6,580.0 480.6,580.1 481.5,580.5 482.5,580.7 483.5,580.6 484.5,580.4 485.5,580.3 486.5,580.4 487.5,580.5 488.5,580.5 489.5,580.6 490.5,580.5 491.5,580.5 492.5,580.3 493.5,580.4 494.5,580.5 495.5,580.8 496.5,581.0 497.5,581.0 498.5,580.9 499.5,580.7 500.5,580.6 501.5,580.7 502.5,580.9 503.5,580.9 504.5,580.8 505.5,580.7 506.5,580.9 507.5,580.9 508.5,580.8 509.5,580.5 510.5,580.5 511.5,580.6 512.5,580.8 513.5,580.8 514.5,580.8 515.5,580.6 516.5,580.6 517.5,580.6 518.5,580.8 519.5,581.0 520.5,581.2 521.5,581.2 522.5,581.1 523.4,580.8 524.4,580.5 525.4,580.4 526.4,580.3 527.4,580.3 528.4,580.3 529.4,580.3 530.4,580.3 531.4,580.3 532.4,580.3 533.4,580.2 534.4,579.9 535.4,579.6 536.4,579.5 537.4,579.4 538.4,579.4 539.4,579.3 540.4,579.2 541.4,578.9 542.4,578.7 543.4,578.5 544.4,578.3 545.4,578.1 546.4,577.9 547.4,577.6 548.4,577.0 549.4,576.2 550.4,575.2 551.4,574.3 552.4,573.5 553.4,572.6 554.4,571.6 555.4,570.4 556.4,569.4 557.4,568.8 558.4,568.5 559.4,568.4 560.4,568.6 561.4,569.0 562.4,569.5 563.4,570.2 564.4,571.0 565.3,571.9 566.3,572.7 567.3,573.3 568.3,573.9 569.3,574.4 570.3,575.1 571.3,575.8 572.3,576.4 573.3,576.8 574.3,577.0 575.3,577.3 576.3,577.5 577.3,577.5 578.3,577.6 579.3,577.6 580.3,577.6 581.3,577.2 582.3,576.8 583.3,576.7 584.3,576.7 585.3,576.8 586.3,576.7 587.3,576.6 588.3,576.2 589.3,575.8 590.3,575.2 591.3,574.4 592.3,573.6 593.3,572.8 594.3,572.0 595.3,571.2 596.3,570.2 597.3,569.2 598.3,567.8 599.3,566.1 600.3,564.2 601.3,562.2 602.3,560.2 603.3,558.3 604.3,556.6 605.3,555.5 606.2,554.7 607.2,554.7 608.2,555.1 609.2,555.9 610.2,557.0 611.2,558.3 612.2,559.8 613.2,561.4 614.2,562.9 615.2,564.4 616.2,565.7 617.2,567.0 618.2,568.3 619.2,569.4 620.2,570.5 621.2,571.5 622.2,572.4 623.2,573.2 624.2,573.8 625.2,574.4 626.2,575.0 627.2,575.5 628.2,576.0 629.2,576.4 630.2,576.8 631.2,577.2 632.2,577.4 633.2,577.7 634.2,577.7 635.2,577.7 636.2,577.7 637.2,577.9 638.2,578.1 639.2,578.3 640.2,578.5 641.2,578.6 642.2,578.5 643.2,578.3 644.2,578.1 645.2,578.2 646.2,578.6 647.2,578.9 648.1,578.9 649.1,578.8 650.1,578.5 651.1,578.3 652.1,578.3 653.1,578.4 654.1,578.3 655.1,578.2 656.1,578.1 657.1,578.1 658.1,577.9 659.1,577.8 660.1,577.6 661.1,577.7 662.1,577.6 663.1,577.5 664.1,577.1 665.1,576.7 666.1,576.4 667.1,576.4 668.1,576.4 669.1,576.3 670.1,576.1 671.1,575.7 672.1,575.3 673.1,574.9 674.1,574.6 675.1,574.4 676.1,574.2 677.1,573.8 678.1,573.3 679.1,572.7 680.1,572.1 681.1,571.5 682.1,570.8 683.1,570.1 684.1,569.4 685.1,568.6 686.1,567.8 687.1,566.7 688.1,565.4 689.1,563.9 690.0,562.3 691.0,560.4 692.0,558.2 693.0,555.7 694.0,552.7 695.0,549.0 696.0,544.6 697.0,539.3 698.0,533.1 699.0,525.8 700.0,517.1 701.0,507.0 702.0,495.5 703.0,482.5 704.0,468.0 705.0,452.2 706.0,435.3 707.0,418.1 708.0,401.5 709.0,386.6 710.0,374.6 711.0,366.6 712.0,363.7 713.0,365.6 714.0,371.5 715.0,381.0 716.0,393.3 717.0,407.2 718.0,421.8 719.0,436.5 720.0,450.9 721.0,464.8 722.0,477.9 723.0,490.0 724.0,500.7 725.0,510.2 726.0,518.5 727.0,525.7 728.0,532.0 729.0,537.3 730.0,541.8 730.9,545.5 731.9,548.3 732.9,550.5 733.9,552.3 734.9,553.7 735.9,554.7 736.9,555.5 737.9,555.9 738.9,556.4 739.9,556.8 740.9,557.0 741.9,557.1 742.9,557.4 743.9,558.0 744.9,558.8 745.9,559.7 746.9,560.5 747.9,561.4 748.9,562.3 749.9,563.1 750.9,564.0 751.9,565.0 752.9,566.1 753.9,567.2 754.9,568.3 755.9,569.4 756.9,570.5 757.9,571.4 758.9,572.0 759.9,572.6 760.9,573.2 761.9,573.8 762.9,574.3 763.9,574.8 764.9,575.4 765.9,576.2 766.9,576.9 767.9,577.2 768.9,577.4 769.9,577.7 770.9,577.9 771.9,578.1 772.8,578.3 773.8,578.6 774.8,578.9 775.8,579.2 776.8,579.2 777.8,579.4 778.8,579.7 779.8,580.1 780.8,580.2 781.8,580.4 782.8,580.6 783.8,580.9 784.8,581.1 785.8,581.3 786.8,581.5 787.8,581.5 788.8,581.7 789.8,581.8 790.8,581.9 791.8,581.9 792.8,581.9 793.8,581.9 794.8,581.9 795.8,582.0 796.8,582.3 797.8,582.6 798.8,582.9 799.8,583.0 800.8,583.0 801.8,582.9 802.8,582.8 803.8,582.6 804.8,582.7 805.8,582.9 806.8,583.2 807.8,583.6 808.8,583.5 809.8,583.3 810.8,583.1 811.8,583.2 812.8,583.4 813.8,583.7 814.7,583.8 815.7,583.9 816.7,583.9 817.7,584.0 818.7,584.0 819.7,584.0 820.7,584.0 821.7,584.1 822.7,584.2 823.7,584.3 824.7,584.3 825.7,584.2 826.7,584.2 827.7,584.3 828.7,584.5 829.7,584.6 830.7,584.6 831.7,584.6 832.7,584.6 833.7,584.6 834.7,584.7" fill="none" stroke="#ff00ff" stroke-width="2" stroke-linejoin="round"/>
<path d="M86.5,716.8 87.5,715.4 88.5,713.9 89.5,712.4 90.5,711.0 91.5,709.8 92.5,709.1 93.5,709.0 94.5,709.4 95.5,710.2 96.5,711.1 97.5,712.0 98.5,712.9 99.5,713.6 100.5,714.3 101.5,715.2 102.5,716.3 103.5,717.3 104.5,718.1 105.5,719.0 106.5,720.2 107.4,721.6 108.4,722.9 109.4,724.1 110.4,725.0 111.4,725.7 112.4,726.2 113.4,726.8 114.4,727.4 115.4,728.1 116.4,728.4 117.4,728.7 118.4,728.8 119.4,729.1 120.4,729.3 121.4,729.5 122.4,729.7 123.4,729.9 124.4,730.0 125.4,730.0 126.4,729.8 127.4,729.7 128.4,729.6 129.4,729.6 130.4,729.7 131.4,729.7 132.4,729.7 133.4,729.7 134.4,729.7 135.4,729.8 136.4,730.0 137.4,730.2 138.4,730.1 139.4,730.1 140.4,730.0 141.4,729.9 142.4,729.8 143.4,729.7 144.4,729.8 145.4,730.0 146.4,730.0 147.4,730.0 148.4,730.0 149.3,730.0 150.3,730.1 151.3,730.2 152.3,730.2 153.3,730.0 154.3,729.8 155.3,729.5 156.3,729.3 157.3,729.2 158.3,728.8 159.3,728.3 160.3,727.8 161.3,727.6 162.3,727.4 163.3,727.3 164.3,727.1 165.3,727.2 166.3,727.3 167.3,727.5 168.3,727.8 169.3,728.2 170.3,728.4 171.3,728.6 172.3,728.7 173.3,728.8 174.3,728.8 175.3,728.8 176.3,728.9 177.3,729.0 178.3,729.1 179.3,729.2 180.3,729.2 181.3,729.0 182.3,728.6 183.3,728.3 184.3,728.1 185.3,728.1 186.3,728.2 187.3,728.2 188.3,728.3 189.3,728.3 190.3,728.3 191.2,728.2 192.2,728.3 193.2,728.2 194.2,728.5 195.2,728.6 196.2,728.8 197.2,729.0 198.2,729.1 199.2,729.1 200.2,728.9 201.2,728.7 202.2,728.6 203.2,728.7 204.2,729.0 205.2,729.2 206.2,729.4 207.2,729.4 208.2,729.5 209.2,729.4 210.2,729.6 211.2,729.8 212.2,730.0 213.2,730.2 214.2,730.0 215.2,729.7 216.2,729.5 217.2,729.3 218.2,729.2 219.2,729.1 220.2,729.0 221.2,728.9 222.2,728.8 223.2,728.6 224.2,728.4 225.2,728.2 226.2,727.9 227.2,727.4 228.2,727.0 229.2,726.4 230.2,725.8 231.2,724.9 232.1,724.0 233.1,722.9 234.1,721.8 235.1,720.6 236.1,719.6 237.1,718.7 238.1,718.1 239.1,717.9 240.1,718.0 241.1,718.7 242.1,719.7 243.1,720.9 244.1,721.9 245.1,722.7 246.1,723.6 247.1,724.5 248.1,725.4 249.1,726.2 250.1,726.7 251.1,727.1 252.1,727.3 253.1,727.6 254.1,728.0 255.1,728.5 256.1,728.9 257.1,729.3 258.1,729.4 259.1,729.5 260.1,729.4 261.1,729.3 262.1,729.2 263.1,729.3 264.1,729.3 265.1,729.3 266.1,729.3 267.1,729.4 268.1,729.5 269.1,729.5 270.1,729.3 271.1,729.1 272.1,729.0 273.1,728.9 274.0,728.9 275.0,728.7 276.0,728.2 277.0,727.7 278.0,727.3 279.0,727.1 280.0,726.6 281.0,725.9 282.0,725.3 283.0,725.0 284.0,724.8 285.0,724.3 286.0,723.6 287.0,722.9 288.0,722.3 289.0,721.9 290.0,721.6 291.0,721.4 292.0,720.9 293.0,720.2 294.0,719.1 295.0,717.6 296.0,715.6 297.0,713.0 298.0,710.5 299.0,709.0 300.0,709.1 301.0,710.2 302.0,712.2 303.0,714.2 304.0,716.2 305.0,717.8 306.0,719.1 307.0,720.0 308.0,720.7 309.0,721.1 310.0,721.7 311.0,722.1 312.0,722.4 313.0,722.4 314.0,722.4 315.0,722.4 315.9,722.7 316.9,722.8 317.9,722.7 318.9,722.2 319.9,721.6 320.9,720.9 321.9,720.1 322.9,719.0 323.9,717.8 324.9,716.8 325.9,716.0 326.9,715.7 327.9,715.7 328.9,716.0 329.9,716.8 330.9,717.9 331.9,719.2 332.9,720.4 333.9,721.5 334.9,722.4 335.9,723.4 336.9,724.5 337.9,725.3 338.9,726.0 339.9,726.3 340.9,726.6 341.9,726.9 342.9,727.2 343.9,727.3 344.9,727.4 345.9,727.5 346.9,727.5 347.9,727.5 348.9,727.2 349.9,727.0 350.9,727.0 351.9,727.1 352.9,727.1 353.9,726.9 354.9,726.4 355.9,725.9 356.8,725.3 357.8,724.7 358.8,723.7 359.8,722.4 360.8,720.6 361.8,718.0 362.8,714.6 363.8,710.2 364.8,704.5 365.8,697.4 366.8,688.4 367.8,677.6 368.8,665.4 369.8,652.2 370.8,638.6 371.8,625.6 372.8,614.7 373.8,607.6 374.8,605.6 375.8,606.7 376.8,609.6 377.8,614.0 378.8,619.8 379.8,626.5 380.8,633.9 381.8,641.3 382.8,648.8 383.8,655.9 384.8,662.9 385.8,669.5 386.8,675.6 387.8,681.0 388.8,686.0 389.8,690.5 390.8,694.7 391.8,698.5 392.8,702.1 393.8,705.0 394.8,707.7 395.8,709.9 396.8,711.8 397.8,713.6 398.7,715.3 399.7,716.7 400.7,717.8 401.7,718.7 402.7,719.4 403.7,720.2 404.7,721.0 405.7,722.0 406.7,722.7 407.7,723.4 408.7,724.0 409.7,724.5 410.7,724.9 411.7,725.2 412.7,725.4 413.7,725.6 414.7,725.9 415.7,726.1 416.7,726.4 417.7,726.7 418.7,727.2 419.7,727.6 420.7,727.9 421.7,728.2 422.7,728.5 423.7,728.7 424.7,728.8 425.7,729.0 426.7,729.1 427.7,729.1 428.7,729.2 429.7,729.4 430.7,729.7 431.7,729.8 432.7,729.8 433.7,729.8 434.7,730.0 435.7,730.2 436.7,730.4 437.7,730.5 438.7,730.6 439.7,730.8 440.6,730.9 441.6,731.0 442.6,731.0 443.6,731.0 444.6,731.0 445.6,731.1 446.6,731.1 447.6,731.1 448.6,731.1 449.6,731.2 450.6,731.4 451.6,731.6 452.6,731.8 453.6,731.7 454.6,731.7 455.6,731.7 456.6,731.7 457.6,731.5 458.6,731.4 459.6,731.5 460.6,731.7 461.6,732.1 462.6,732.1 463.6,732.2 464.6,732.0 465.6,732.1 466.6,732.3 467.6,732.5 468.6,732.6 469.6,732.4 470.6,732.2 471.6,732.1 472.6,732.2 473.6,732.3 474.6,732.4 475.6,732.4 476.6,732.5 477.6,732.6 478.6,732.4 479.6,732.2 480.6,732.0 481.5,732.2 482.5,732.4 483.5,732.7 484.5,733.0 485.5,733.2 486.5,733.3 487.5,733.1 488.5,732.9 489.5,732.8 490.5,733.0 491.5,733.2 492.5,733.3 493.5,733.3 494.5,733.3 495.5,733.3 496.5,733.3 497.5,733.1 498.5,733.2 499.5,733.2 500.5,733.1 501.5,732.9 502.5,732.9 503.5,733.1 504.5,733.1 505.5,733.1 506.5,733.0 507.5,733.2 508.5,733.2 509.5,733.3 510.5,733.1 511.5,733.0 512.5,732.9 513.5,733.0 514.5,733.0 515.5,733.0 516.5,733.1 517.5,733.3 518.5,733.4 519.5,733.4 520.5,733.2 521.5,733.0 522.5,732.9 523.4,732.9 524.4,733.1 525.4,733.1 526.4,733.0 527.4,732.7 528.4,732.5 529.4,732.5 530.4,732.6 531.4,732.7 532.4,732.6 533.4,732.4 534.4,732.2 535.4,732.2 536.4,732.2 537.4,732.2 538.4,732.2 539.4,732.3 540.4,732.4 541.4,732.4 542.4,732.3 543.4,732.0 544.4,731.6 545.4,731.4 546.4,731.1 547.4,730.9 548.4,730.7 549.4,730.4 550.4,730.1 551.4,729.7 552.4,729.0 553.4,728.1 554.4,727.2 555.4,726.3 556.4,725.6 557.4,724.9 558.4,724.0 559.4,723.2 560.4,722.5 561.4,722.1 562.4,721.8 563.4,721.8 564.4,722.0 565.3,722.8 566.3,723.7 567.3,724.7 568.3,725.5 569.3,726.0 570.3,726.5 571.3,726.9 572.3,727.5 573.3,728.2 574.3,728.8 575.3,729.1 576.3,729.2 577.3,729.3 578.3,729.6 579.3,730.0 580.3,730.2 581.3,730.2 582.3,730.3 583.3,730.4 584.3,730.6 585.3,730.5 586.3,730.4 587.3,730.2 588.3,730.1 589.3,730.0 590.3,729.8 591.3,729.7 592.3,729.6 593.3,729.4 594.3,729.0 595.3,728.6 596.3,728.2 597.3,727.5 598.3,726.5 599.3,725.5 600.3,724.6 601.3,723.7 602.3,722.5 603.3,720.9 604.3,719.1 605.3,717.4 606.2,716.0 607.2,714.7 608.2,713.9 609.2,713.6 610.2,713.8 611.2,714.3 612.2,715.1 613.2,716.1 614.2,717.3 615.2,718.4 616.2,719.4 617.2,720.4 618.2,721.2 619.2,721.9 620.2,722.4 621.2,722.9 622.2,723.3 623.2,723.8 624.2,724.4 625.2,724.8 626.2,725.1 627.2,725.4 628.2,726.1 629.2,726.9 630.2,727.7 631.2,728.3 632.2,728.7 633.2,729.2 634.2,729.5 635.2,729.8 636.2,730.0 637.2,730.3 638.2,730.7 639.2,730.9 640.2,731.1 641.2,731.2 642.2,731.5 643.2,731.5 644.2,731.7 645.2,731.6 646.2,731.9 647.2,732.0 648.1,732.2 649.1,732.2 650.1,732.2 651.1,732.2 652.1,732.3 653.1,732.2 654.1,732.0 655.1,731.8 656.1,731.6 657.1,731.8 658.1,731.9 659.1,732.0 660.1,732.0 661.1,732.0 662.1,732.0 663.1,732.1 664.1,732.0 665.1,731.9 666.1,731.7 667.1,731.8 668.1,731.8 669.1,731.7 670.1,731.4 671.1,731.1 672.1,731.0 673.1,731.0 674.1,730.8 675.1,730.6 676.1,730.4 677.1,730.3 678.1,730.3 679.1,730.1 680.1,729.8 681.1,729.5 682.1,729.2 683.1,728.9 684.1,728.6 685.1,728.2 686.1,727.7 687.1,727.1 688.1,726.5 689.1,725.9 690.0,725.2 691.0,724.4 692.0,723.4 693.0,722.4 694.0,721.2 695.0,719.8 696.0,718.2 697.0,716.4 698.0,714.1 699.0,711.3 700.0,707.6 701.0,702.9 702.0,697.1 703.0,689.7 704.0,680.5 705.0,669.5 706.0,656.6 707.0,641.5 708.0,624.0 709.0,604.5 710.0,583.9 711.0,563.8 712.0,546.5 713.0,534.9 714.0,531.1 715.0,534.8 716.0,544.4 717.0,558.4 718.0,575.0 719.0,592.5 720.0,609.9 721.0,626.5 722.0,641.8 723.0,655.3 724.0,666.9 725.0,676.5 726.0,684.6 727.0,691.2 728.0,696.6 729.0,700.8 730.0,704.1 730.9,706.5 731.9,708.3 732.9,709.6 733.9,710.6 734.9,711.2 735.9,711.5 736.9,711.6 737.9,711.7 738.9,711.8 739.9,711.7 740.9,711.5 741.9,711.3 742.9,711.0 743.9,711.1 744.9,711.7 745.9,712.5 746.9,713.3 747.9,714.1 748.9,714.8 749.9,715.8 750.9,716.9 751.9,718.1 752.9,719.0 753.9,719.9 754.9,720.8 755.9,721.8 756.9,722.6 757.9,723.4 758.9,724.1 759.9,724.9 760.9,725.7 761.9,726.5 762.9,727.0 763.9,727.5 764.9,727.9 765.9,728.4 766.9,729.0 767.9,729.4 768.9,729.8 769.9,730.1 770.9,730.5 771.9,730.9 772.8,731.2 773.8,731.4 774.8,731.5 775.8,731.5 776.8,731.5 777.8,731.7 778.8,732.0 779.8,732.2 780.8,732.5 781.8,732.7 782.8,733.1 783.8,733.1 784.8,733.3 785.8,733.2 786.8,733.4 787.8,733.5 788.8,733.7 789.8,733.9 790.8,734.1 791.8,734.2 792.8,734.2 793.8,734.4 794.8,734.6 795.8,734.8 796.8,734.7 797.8,734.6 798.8,734.5 799.8,734.6 800.8,734.7 801.8,735.0 802.8,735.2 803.8,735.3 804.8,735.3 805.8,735.2 806.8,735.3 807.8,735.3 808.8,735.3 809.8,735.2 810.8,735.1 811.8,735.2 812.8,735.3 813.8,735.3 814.7,735.5 815.7,735.6 816.7,735.7 817.7,735.7 818.7,735.7 819.7,735.9 820.7,736.1 821.7,736.3 822.7,736.3 823.7,736.2 824.7,736.0 825.7,735.9 826.7,735.9 827.7,735.9 828.7,735.9 829.7,736.0 830.7,736.3 831.7,736.5 832.7,736.7 833.7,736.6 834.7,736.6 M86.5,717.6 87.5,716.2 88.5,714.7 89.5,713.2 90.5,711.8 91.5,710.6 92.5,709.9 93.5,709.8 94.5,710.2 95.5,711.0 96.5,711.9 97.5,712.8 98.5,713.7 99.5,714.4 100.5,715.1 101.5,716.0 102.5,717.1 103.5,718.1 104.5,718.9 105.5,719.8 106.5,721.0 107.4,722.4 108.4,723.7 109.4,724.9 110.4,725.8 111.4,726.5 112.4,727.0 113.4,727.6 114.4,728.2 115.4,728.9 116.4,729.2 117.4,729.5 118.4,729.6 119.4,729.9 120.4,730.1 121.4,730.3 122.4,730.5 123.4,730.7 124.4,730.8 125.4,730.8 126.4,730.6 127.4,730.5 128.4,730.4 129.4,730.4 130.4,730.5 131.4,730.5 132.4,730.5 133.4,730.5 134.4,730.5 135.4,730.6 136.4,730.8 137.4,731.0 138.4,730.9 139.4,730.9 140.4,730.8 141.4,730.7 142.4,730.6 143.4,730.5 144.4,730.6 145.4,730.8 146.4,730.8 147.4,730.8 148.4,730.8 149.3,730.8 150.3,730.9 151.3,731.0 152.3,731.0 153.3,730.8 154.3,730.6 155.3,730.3 156.3,730.1 157.3,730.0 158.3,729.6 159.3,729.1 160.3,728.6 161.3,728.4 162.3,728.2 163.3,728.1 164.3,727.9 165.3,728.0 166.3,728.1 167.3,728.3 168.3,728.6 169.3,729.0 170.3,729.2 171.3,729.4 172.3,729.5 173.3,729.6 174.3,729.6 175.3,729.6 176.3,729.7 177.3,729.8 178.3,729.9 179.3,730.0 180.3,730.0 181.3,729.8 182.3,729.4 183.3,729.1 184.3,728.9 185.3,728.9 186.3,729.0 187.3,729.0 188.3,729.1 189.3,729.1 190.3,729.1 191.2,729.0 192.2,729.1 193.2,729.0 194.2,729.3 195.2,729.4 196.2,729.6 197.2,729.8 198.2,729.9 199.2,729.9 200.2,729.7 201.2,729.5 202.2,729.4 203.2,729.5 204.2,729.8 205.2,730.0 206.2,730.2 207.2,730.2 208.2,730.3 209.2,730.2 210.2,730.4 211.2,730.6 212.2,730.8 213.2,731.0 214.2,730.8 215.2,730.5 216.2,730.3 217.2,730.1 218.2,730.0 219.2,729.9 220.2,729.8 221.2,729.7 222.2,729.6 223.2,729.4 224.2,729.2 225.2,729.0 226.2,728.7 227.2,728.2 228.2,727.8 229.2,727.2 230.2,726.6 231.2,725.7 232.1,724.8 233.1,723.7 234.1,722.6 235.1,721.4 236.1,720.4 237.1,719.5 238.1,718.9 239.1,718.7 240.1,718.8 241.1,719.5 242.1,720.5 243.1,721.7 244.1,722.7 245.1,723.5 246.1,724.4 247.1,725.3 248.1,726.2 249.1,727.0 250.1,727.5 251.1,727.9 252.1,728.1 253.1,728.4 254.1,728.8 255.1,729.3 256.1,729.7 257.1,730.1 258.1,730.2 259.1,730.3 260.1,730.2 261.1,730.1 262.1,730.0 263.1,730.1 264.1,730.1 265.1,730.1 266.1,730.1 267.1,730.2 268.1,730.3 269.1,730.3 270.1,730.1 271.1,729.9 272.1,729.8 273.1,729.7 274.0,729.7 275.0,729.5 276.0,729.0 277.0,728.5 278.0,728.1 279.0,727.9 280.0,727.4 281.0,726.7 282.0,726.1 283.0,725.8 284.0,725.6 285.0,725.1 286.0,724.4 287.0,723.7 288.0,723.1 289.0,722.7 290.0,722.4 291.0,722.2 292.0,721.7 293.0,721.0 294.0,719.9 295.0,718.4 296.0,716.4 297.0,713.8 298.0,711.3 299.0,709.8 300.0,709.9 301.0,711.0 302.0,713.0 303.0,715.0 304.0,717.0 305.0,718.6 306.0,719.9 307.0,720.8 308.0,721.5 309.0,721.9 310.0,722.5 311.0,722.9 312.0,723.2 313.0,723.2 314.0,723.2 315.0,723.2 315.9,723.5 316.9,723.6 317.9,723.5 318.9,723.0 319.9,722.4 320.9,721.7 321.9,720.9 322.9,719.8 323.9,718.6 324.9,717.6 325.9,716.8 326.9,716.5 327.9,716.5 328.9,716.8 329.9,717.6 330.9,718.7 331.9,720.0 332.9,721.2 333.9,722.3 334.9,723.2 335.9,724.2 336.9,725.3 337.9,726.1 338.9,726.8 339.9,727.1 340.9,727.4 341.9,727.7 342.9,728.0 343.9,728.1 344.9,728.2 345.9,728.3 346.9,728.3 347.9,728.3 348.9,728.0 349.9,727.8 350.9,727.8 351.9,727.9 352.9,727.9 353.9,727.7 354.9,727.2 355.9,726.7 356.8,726.1 357.8,725.5 358.8,724.5 359.8,723.2 360.8,721.4 361.8,718.8 362.8,715.4 363.8,711.0 364.8,705.3 365.8,698.2 366.8,689.2 367.8,678.4 368.8,666.2 369.8,653.0 370.8,639.4 371.8,626.4 372.8,615.5 373.8,608.4 374.8,606.4 375.8,607.5 376.8,610.4 377.8,614.8 378.8,620.6 379.8,627.3 380.8,634.7 381.8,642.1 382.8,649.6 383.8,656.7 384.8,663.7 385.8,670.3 386.8,676.4 387.8,681.8 388.8,686.8 389.8,691.3 390.8,695.5 391.8,699.3 392.8,702.9 393.8,705.8 394.8,708.5 395.8,710.7 396.8,712.6 397.8,714.4 398.7,716.1 399.7,717.5 400.7,718.6 401.7,719.5 402.7,720.2 403.7,721.0 404.7,721.8 405.7,722.8 406.7,723.5 407.7,724.2 408.7,724.8 409.7,725.3 410.7,725.7 411.7,726.0 412.7,726.2 413.7,726.4 414.7,726.7 415.7,726.9 416.7,727.2 417.7,727.5 418.7,728.0 419.7,728.4 420.7,728.7 421.7,729.0 422.7,729.3 423.7,729.5 424.7,729.6 425.7,729.8 426.7,729.9 427.7,729.9 428.7,730.0 429.7,730.2 430.7,730.5 431.7,730.6 432.7,730.6 433.7,730.6 434.7,730.8 435.7,731.0 436.7,731.2 437.7,731.3 438.7,731.4 439.7,731.6 440.6,731.7 441.6,731.8 442.6,731.8 443.6,731.8 444.6,731.8 445.6,731.9 446.6,731.9 447.6,731.9 448.6,731.9 449.6,732.0 450.6,732.2 451.6,732.4 452.6,732.6 453.6,732.5 454.6,732.5 455.6,732.5 456.6,732.5 457.6,732.3 458.6,732.2 459.6,732.3 460.6,732.5 461.6,732.9 462.6,732.9 463.6,733.0 464.6,732.8 465.6,732.9 466.6,733.1 467.6,733.3 468.6,733.4 469.6,733.2 470.6,733.0 471.6,732.9 472.6,733.0 473.6,733.1 474.6,733.2 475.6,733.2 476.6,733.3 477.6,733.4 478.6,733.2 479.6,733.0 480.6,732.8 481.5,733.0 482.5,733.2 483.5,733.5 484.5,733.8 485.5,734.0 486.5,734.1 487.5,733.9 488.5,733.7 489.5,733.6 490.5,733.8 491.5,734.0 492.5,734.1 493.5,734.1 494.5,734.1 495.5,734.1 496.5,734.1 497.5,733.9 498.5,734.0 499.5,734.0 500.5,733.9 501.5,733.7 502.5,733.7 503.5,733.9 504.5,733.9 505.5,733.9 506.5,733.8 507.5,734.0 508.5,734.0 509.5,734.1 510.5,733.9 511.5,733.8 512.5,733.7 513.5,733.8 514.5,733.8 515.5,733.8 516.5,733.9 517.5,734.1 518.5,734.2 519.5,734.2 520.5,734.0 521.5,733.8 522.5,733.7 523.4,733.7 524.4,733.9 525.4,733.9 526.4,733.8 527.4,733.5 528.4,733.3 529.4,733.3 530.4,733.4 531.4,733.5 532.4,733.4 533.4,733.2 534.4,733.0 535.4,733.0 536.4,733.0 537.4,733.0 538.4,733.0 539.4,733.1 540.4,733.2 541.4,733.2 542.4,733.1 543.4,732.8 544.4,732.4 545.4,732.2 546.4,731.9 547.4,731.7 548.4,731.5 549.4,731.2 550.4,730.9 551.4,730.5 552.4,729.8 553.4,728.9 554.4,728.0 555.4,727.1 556.4,726.4 557.4,725.7 558.4,724.8 559.4,724.0 560.4,723.3 561.4,722.9 562.4,722.6 563.4,722.6 564.4,722.8 565.3,723.6 566.3,724.5 567.3,725.5 568.3,726.3 569.3,726.8 570.3,727.3 571.3,727.7 572.3,728.3 573.3,729.0 574.3,729.6 575.3,729.9 576.3,730.0 577.3,730.1 578.3,730.4 579.3,730.8 580.3,731.0 581.3,731.0 582.3,731.1 583.3,731.2 584.3,731.4 585.3,731.3 586.3,731.2 587.3,731.0 588.3,730.9 589.3,730.8 590.3,730.6 591.3,730.5 592.3,730.4 593.3,730.2 594.3,729.8 595.3,729.4 596.3,729.0 597.3,728.3 598.3,727.3 599.3,726.3 600.3,725.4 601.3,724.5 602.3,723.3 603.3,721.7 604.3,719.9 605.3,718.2 606.2,716.8 607.2,715.5 608.2,714.7 609.2,714.4 610.2,714.6 611.2,715.1 612.2,715.9 613.2,716.9 614.2,718.1 615.2,719.2 616.2,720.2 617.2,721.2 618.2,722.0 619.2,722.7 620.2,723.2 621.2,723.7 622.2,724.1 623.2,724.6 624.2,725.2 625.2,725.6 626.2,725.9 627.2,726.2 628.2,726.9 629.2,727.7 630.2,728.5 631.2,729.1 632.2,729.5 633.2,730.0 634.2,730.3 635.2,730.6 636.2,730.8 637.2,731.1 638.2,731.5 639.2,731.7 640.2,731.9 641.2,732.0 642.2,732.3 643.2,732.3 644.2,732.5 645.2,732.4 646.2,732.7 647.2,732.8 648.1,733.0 649.1,733.0 650.1,733.0 651.1,733.0 652.1,733.1 653.1,733.0 654.1,732.8 655.1,732.6 656.1,732.4 657.1,732.6 658.1,732.7 659.1,732.8 660.1,732.8 661.1,732.8 662.1,732.8 663.1,732.9 664.1,732.8 665.1,732.7 666.1,732.5 667.1,732.6 668.1,732.6 669.1,732.5 670.1,732.2 671.1,731.9 672.1,731.8 673.1,731.8 674.1,731.6 675.1,731.4 676.1,731.2 677.1,731.1 678.1,731.1 679.1,730.9 680.1,730.6 681.1,730.3 682.1,730.0 683.1,729.7 684.1,729.4 685.1,729.0 686.1,728.5 687.1,727.9 688.1,727.3 689.1,726.7 690.0,726.0 691.0,725.2 692.0,724.2 693.0,723.2 694.0,722.0 695.0,720.6 696.0,719.0 697.0,717.2 698.0,714.9 699.0,712.1 700.0,708.4 701.0,703.7 702.0,697.9 703.0,690.5 704.0,681.3 705.0,670.3 706.0,657.4 707.0,642.3 708.0,624.8 709.0,605.3 710.0,584.7 711.0,564.6 712.0,547.3 713.0,535.7 714.0,531.9 715.0,535.6 716.0,545.2 717.0,559.2 718.0,575.8 719.0,593.3 720.0,610.7 721.0,627.3 722.0,642.6 723.0,656.1 724.0,667.7 725.0,677.3 726.0,685.4 727.0,692.0 728.0,697.4 729.0,701.6 730.0,704.9 730.9,707.3 731.9,709.1 732.9,710.4 733.9,711.4 734.9,712.0 735.9,712.3 736.9,712.4 737.9,712.5 738.9,712.6 739.9,712.5 740.9,712.3 741.9,712.1 742.9,711.8 743.9,711.9 744.9,712.5 745.9,713.3 746.9,714.1 747.9,714.9 748.9,715.6 749.9,716.6 750.9,717.7 751.9,718.9 752.9,719.8 753.9,720.7 754.9,721.6 755.9,722.6 756.9,723.4 757.9,724.2 758.9,724.9 759.9,725.7 760.9,726.5 761.9,727.3 762.9,727.8 763.9,728.3 764.9,728.7 765.9,729.2 766.9,729.8 767.9,730.2 768.9,730.6 769.9,730.9 770.9,731.3 771.9,731.7 772.8,732.0 773.8,732.2 774.8,732.3 775.8,732.3 776.8,732.3 777.8,732.5 778.8,732.8 779.8,733.0 780.8,733.3 781.8,733.5 782.8,733.9 783.8,733.9 784.8,734.1 785.8,734.0 786.8,734.2 787.8,734.3 788.8,734.5 789.8,734.7 790.8,734.9 791.8,735.0 792.8,735.0 793.8,735.2 794.8,735.4 795.8,735.6 796.8,735.5 797.8,735.4 798.8,735.3 799.8,735.4 800.8,735.5 801.8,735.8 802.8,736.0 803.8,736.1 804.8,736.1 805.8,736.0 806.8,736.1 807.8,736.1 808.8,736.1 809.8,736.0 810.8,735.9 811.8,736.0 812.8,736.1 813.8,736.1 814.7,736.3 815.7,736.4 816.7,736.5 817.7,736.5 818.7,736.5 819.7,736.7 820.7,736.9 821.7,737.1 822.7,737.1 823.7,737.0 824.7,736.8 825.7,736.7 826.7,736.7 827.7,736.7 828.7,736.7 829.7,736.8 830.7,737.1 831.7,737.3 832.7,737.5 833.7,737.4 834.7,737.4" fill="none" stroke="#ff6a00" stroke-width="1.9" stroke-linejoin="round"/>
<path d="M86.5,861.2 87.5,859.5 88.5,857.9 89.5,856.4 90.5,855.3 91.5,854.2 92.5,853.2 93.5,852.4 94.5,852.0 95.5,852.3 96.5,852.9 97.5,853.7 98.5,854.4 99.5,854.9 100.5,855.2 101.5,855.4 102.5,855.8 103.5,856.5 104.5,857.5 105.5,858.6 106.5,859.7 107.4,860.8 108.4,861.7 109.4,862.8 110.4,863.9 111.4,865.1 112.4,866.2 113.4,867.3 114.4,868.2 115.4,868.9 116.4,869.3 117.4,869.7 118.4,870.1 119.4,870.7 120.4,871.2 121.4,871.8 122.4,872.3 123.4,872.5 124.4,872.3 125.4,871.9 126.4,871.7 127.4,871.8 128.4,872.2 129.4,872.5 130.4,872.6 131.4,872.6 132.4,872.6 133.4,872.5 134.4,872.5 135.4,872.4 136.4,872.4 137.4,872.4 138.4,872.8 139.4,873.0 140.4,873.0 141.4,872.7 142.4,872.3 143.4,872.1 144.4,872.1 145.4,872.1 146.4,872.0 147.4,872.1 148.4,872.1 149.3,872.3 150.3,872.3 151.3,872.5 152.3,872.6 153.3,872.7 154.3,872.6 155.3,872.4 156.3,872.1 157.3,871.6 158.3,871.3 159.3,871.2 160.3,871.2 161.3,871.0 162.3,870.6 163.3,870.4 164.3,870.3 165.3,870.6 166.3,870.8 167.3,871.0 168.3,871.0 169.3,870.9 170.3,870.7 171.3,870.6 172.3,870.6 173.3,871.0 174.3,871.5 175.3,871.9 176.3,872.0 177.3,871.9 178.3,871.5 179.3,871.1 180.3,870.9 181.3,870.9 182.3,871.0 183.3,871.0 184.3,870.9 185.3,870.8 186.3,870.9 187.3,870.9 188.3,871.0 189.3,870.9 190.3,870.6 191.2,870.5 192.2,870.6 193.2,870.8 194.2,870.9 195.2,870.8 196.2,870.8 197.2,870.9 198.2,871.1 199.2,871.3 200.2,871.4 201.2,871.4 202.2,871.5 203.2,871.6 204.2,871.8 205.2,872.0 206.2,872.3 207.2,872.5 208.2,872.3 209.2,871.9 210.2,871.7 211.2,871.7 212.2,871.9 213.2,872.1 214.2,872.1 215.2,872.1 216.2,872.0 217.2,871.9 218.2,871.8 219.2,871.8 220.2,872.0 221.2,872.1 222.2,872.2 223.2,871.8 224.2,871.4 225.2,870.9 226.2,870.8 227.2,870.6 228.2,870.4 229.2,869.9 230.2,869.4 231.2,868.6 232.1,867.9 233.1,867.1 234.1,866.4 235.1,865.6 236.1,864.7 237.1,863.7 238.1,862.7 239.1,861.8 240.1,861.2 241.1,861.3 242.1,861.8 243.1,862.4 244.1,863.0 245.1,863.5 246.1,864.3 247.1,865.2 248.1,866.2 249.1,867.2 250.1,868.1 251.1,868.7 252.1,869.2 253.1,869.6 254.1,870.0 255.1,870.3 256.1,870.5 257.1,870.7 258.1,871.0 259.1,871.2 260.1,871.3 261.1,871.4 262.1,871.6 263.1,871.7 264.1,871.7 265.1,871.8 266.1,871.9 267.1,872.1 268.1,872.1 269.1,872.1 270.1,871.9 271.1,871.8 272.1,871.5 273.1,871.3 274.0,871.1 275.0,871.1 276.0,871.2 277.0,871.2 278.0,871.1 279.0,870.9 280.0,870.5 281.0,870.1 282.0,869.6 283.0,869.1 284.0,868.3 285.0,867.6 286.0,866.8 287.0,866.3 288.0,865.8 289.0,865.5 290.0,865.2 291.0,864.8 292.0,864.5 293.0,864.1 294.0,863.7 295.0,862.8 296.0,861.7 297.0,860.0 298.0,858.1 299.0,855.7 300.0,853.5 301.0,852.0 302.0,852.1 303.0,853.4 304.0,855.4 305.0,857.4 306.0,859.2 307.0,860.8 308.0,861.9 309.0,862.8 310.0,863.4 311.0,863.9 312.0,864.4 313.0,864.6 314.0,864.8 315.0,864.7 315.9,864.8 316.9,864.8 317.9,864.7 318.9,864.7 319.9,864.7 320.9,864.5 321.9,863.9 322.9,863.2 323.9,862.1 324.9,861.0 325.9,859.6 326.9,858.5 327.9,857.9 328.9,857.8 329.9,858.2 330.9,858.9 331.9,859.9 332.9,861.0 333.9,862.2 334.9,863.4 335.9,864.4 336.9,865.3 337.9,866.1 338.9,866.9 339.9,867.9 340.9,868.7 341.9,869.1 342.9,869.3 343.9,869.3 344.9,869.6 345.9,869.8 346.9,869.8 347.9,869.6 348.9,869.5 349.9,869.6 350.9,869.7 351.9,869.8 352.9,869.8 353.9,869.7 354.9,869.4 355.9,869.0 356.8,868.6 357.8,868.1 358.8,867.3 359.8,866.4 360.8,865.0 361.8,863.5 362.8,861.3 363.8,858.5 364.8,854.5 365.8,849.5 366.8,843.1 367.8,835.2 368.8,826.0 369.8,815.5 370.8,804.0 371.8,792.0 372.8,780.3 373.8,769.9 374.8,762.3 375.8,758.4 376.8,758.5 377.8,760.4 378.8,763.9 379.8,768.9 380.8,774.9 381.8,781.7 382.8,788.8 383.8,795.9 384.8,802.9 385.8,809.7 386.8,816.1 387.8,822.2 388.8,827.9 389.8,833.1 390.8,837.6 391.8,841.5 392.8,845.1 393.8,848.4 394.8,851.2 395.8,853.6 396.8,855.6 397.8,857.4 398.7,859.1 399.7,860.4 400.7,861.7 401.7,862.7 402.7,863.7 403.7,864.4 404.7,865.2 405.7,865.8 406.7,866.4 407.7,866.9 408.7,867.4 409.7,868.0 410.7,868.4 411.7,868.9 412.7,869.3 413.7,869.8 414.7,870.1 415.7,870.3 416.7,870.7 417.7,871.2 418.7,871.6 419.7,871.5 420.7,871.4 421.7,871.3 422.7,871.4 423.7,871.6 424.7,871.7 425.7,871.9 426.7,871.9 427.7,871.8 428.7,871.8 429.7,872.0 430.7,872.3 431.7,872.6 432.7,872.9 433.7,873.0 434.7,873.0 435.7,873.1 436.7,873.3 437.7,873.5 438.7,873.6 439.7,873.7 440.6,873.8 441.6,873.9 442.6,874.0 443.6,873.9 444.6,874.0 445.6,874.0 446.6,874.1 447.6,874.0 448.6,874.1 449.6,874.1 450.6,874.2 451.6,874.3 452.6,874.5 453.6,874.6 454.6,874.5 455.6,874.4 456.6,874.5 457.6,874.7 458.6,874.8 459.6,874.9 460.6,875.0 461.6,875.0 462.6,874.9 463.6,874.8 464.6,874.9 465.6,875.0 466.6,875.1 467.6,875.0 468.6,874.9 469.6,874.9 470.6,875.1 471.6,875.3 472.6,875.4 473.6,875.2 474.6,874.9 475.6,874.9 476.6,875.2 477.6,875.6 478.6,875.7 479.6,875.5 480.6,875.3 481.5,875.2 482.5,875.3 483.5,875.4 484.5,875.6 485.5,875.8 486.5,875.7 487.5,875.7 488.5,875.6 489.5,875.6 490.5,875.4 491.5,875.3 492.5,875.3 493.5,875.4 494.5,875.4 495.5,875.5 496.5,875.7 497.5,875.9 498.5,875.9 499.5,875.7 500.5,875.5 501.5,875.5 502.5,875.4 503.5,875.5 504.5,875.5 505.5,875.7 506.5,875.9 507.5,876.1 508.5,876.2 509.5,876.3 510.5,876.2 511.5,876.3 512.5,876.2 513.5,876.3 514.5,876.2 515.5,876.2 516.5,876.0 517.5,876.0 518.5,875.9 519.5,875.9 520.5,875.8 521.5,875.7 522.5,875.6 523.4,875.6 524.4,875.9 525.4,876.3 526.4,876.3 527.4,876.1 528.4,875.9 529.4,875.9 530.4,876.0 531.4,876.1 532.4,876.1 533.4,875.9 534.4,875.8 535.4,875.5 536.4,875.3 537.4,875.2 538.4,875.2 539.4,875.1 540.4,874.9 541.4,874.7 542.4,874.8 543.4,875.0 544.4,875.1 545.4,874.8 546.4,874.4 547.4,874.0 548.4,873.8 549.4,873.7 550.4,873.5 551.4,873.1 552.4,872.6 553.4,872.2 554.4,871.8 555.4,871.2 556.4,870.6 557.4,869.7 558.4,868.8 559.4,867.9 560.4,867.0 561.4,866.3 562.4,865.6 563.4,865.3 564.4,865.4 565.3,865.7 566.3,866.5 567.3,867.3 568.3,868.2 569.3,868.9 570.3,869.7 571.3,870.3 572.3,871.0 573.3,871.5 574.3,872.1 575.3,872.7 576.3,873.1 577.3,873.3 578.3,873.6 579.3,874.0 580.3,874.3 581.3,874.2 582.3,874.0 583.3,873.8 584.3,873.7 585.3,873.7 586.3,873.7 587.3,873.7 588.3,873.6 589.3,873.4 590.3,873.1 591.3,873.0 592.3,873.0 593.3,873.1 594.3,873.0 595.3,872.6 596.3,871.9 597.3,871.2 598.3,870.4 599.3,869.6 600.3,868.7 601.3,867.7 602.3,866.7 603.3,865.7 604.3,864.4 605.3,863.0 606.2,861.5 607.2,860.3 608.2,859.4 609.2,859.0 610.2,858.8 611.2,858.9 612.2,859.2 613.2,860.0 614.2,860.8 615.2,861.6 616.2,862.2 617.2,862.8 618.2,863.6 619.2,864.4 620.2,865.1 621.2,865.7 622.2,866.3 623.2,866.7 624.2,867.1 625.2,867.5 626.2,868.0 627.2,868.4 628.2,869.2 629.2,870.2 630.2,871.2 631.2,871.8 632.2,872.0 633.2,872.2 634.2,872.3 635.2,872.7 636.2,873.1 637.2,873.5 638.2,873.8 639.2,874.1 640.2,874.4 641.2,874.6 642.2,874.7 643.2,874.8 644.2,874.9 645.2,874.9 646.2,874.9 647.2,874.9 648.1,874.9 649.1,874.8 650.1,874.9 651.1,875.0 652.1,875.1 653.1,875.1 654.1,875.2 655.1,875.1 656.1,875.1 657.1,875.0 658.1,875.2 659.1,875.4 660.1,875.7 661.1,875.8 662.1,875.6 663.1,875.5 664.1,875.4 665.1,875.5 666.1,875.4 667.1,875.4 668.1,875.3 669.1,875.3 670.1,875.3 671.1,875.4 672.1,875.5 673.1,875.4 674.1,875.0 675.1,874.5 676.1,874.1 677.1,874.0 678.1,874.2 679.1,874.3 680.1,874.2 681.1,873.8 682.1,873.3 683.1,872.9 684.1,872.5 685.1,872.3 686.1,871.9 687.1,871.6 688.1,871.1 689.1,870.8 690.0,870.5 691.0,870.2 692.0,869.7 693.0,868.9 694.0,867.8 695.0,866.7 696.0,865.5 697.0,864.4 698.0,863.0 699.0,861.4 700.0,859.0 701.0,856.1 702.0,852.2 703.0,847.5 704.0,841.5 705.0,834.0 706.0,824.7 707.0,813.3 708.0,799.9 709.0,784.5 710.0,767.4 711.0,749.4 712.0,731.9 713.0,717.2 714.0,707.9 715.0,706.0 716.0,710.1 717.0,718.8 718.0,730.7 719.0,744.6 720.0,759.2 721.0,773.8 722.0,787.8 723.0,800.6 724.0,811.8 725.0,821.4 726.0,829.5 727.0,836.5 728.0,842.1 729.0,846.5 730.0,849.9 730.9,852.7 731.9,854.8 732.9,856.4 733.9,857.4 734.9,858.0 735.9,858.2 736.9,858.2 737.9,858.0 738.9,857.9 739.9,857.8 740.9,857.7 741.9,857.6 742.9,857.5 743.9,857.6 744.9,858.1 745.9,858.7 746.9,859.4 747.9,860.0 748.9,860.7 749.9,861.4 750.9,862.2 751.9,862.9 752.9,863.6 753.9,864.4 754.9,865.2 755.9,866.0 756.9,866.9 757.9,867.6 758.9,868.4 759.9,869.2 760.9,870.0 761.9,870.7 762.9,871.1 763.9,871.3 764.9,871.6 765.9,871.9 766.9,872.3 767.9,872.6 768.9,873.0 769.9,873.2 770.9,873.7 771.9,874.1 772.8,874.5 773.8,874.7 774.8,874.9 775.8,874.8 776.8,874.9 777.8,875.1 778.8,875.6 779.8,876.1 780.8,876.4 781.8,876.5 782.8,876.4 783.8,876.3 784.8,876.3 785.8,876.4 786.8,876.6 787.8,876.7 788.8,876.9 789.8,876.9 790.8,876.9 791.8,876.9 792.8,877.1 793.8,877.2 794.8,877.3 795.8,877.4 796.8,877.6 797.8,877.7 798.8,877.6 799.8,877.5 800.8,877.5 801.8,877.7 802.8,877.8 803.8,878.0 804.8,878.0 805.8,878.1 806.8,878.1 807.8,878.2 808.8,878.2 809.8,878.3 810.8,878.4 811.8,878.4 812.8,878.6 813.8,878.7 814.7,878.8 815.7,878.8 816.7,878.8 817.7,878.8 818.7,878.8 819.7,878.8 820.7,878.9 821.7,879.0 822.7,879.2 823.7,879.0 824.7,878.8 825.7,878.5 826.7,878.4 827.7,878.7 828.7,879.2 829.7,879.7 830.7,879.8 831.7,879.6 832.7,879.3 833.7,879.2 834.7,879.4 M86.5,862.0 87.5,860.3 88.5,858.7 89.5,857.2 90.5,856.1 91.5,855.0 92.5,854.0 93.5,853.2 94.5,852.8 95.5,853.1 96.5,853.7 97.5,854.5 98.5,855.2 99.5,855.7 100.5,856.0 101.5,856.2 102.5,856.6 103.5,857.3 104.5,858.3 105.5,859.4 106.5,860.5 107.4,861.6 108.4,862.5 109.4,863.6 110.4,864.7 111.4,865.9 112.4,867.0 113.4,868.1 114.4,869.0 115.4,869.7 116.4,870.1 117.4,870.5 118.4,870.9 119.4,871.5 120.4,872.0 121.4,872.6 122.4,873.1 123.4,873.3 124.4,873.1 125.4,872.7 126.4,872.5 127.4,872.6 128.4,873.0 129.4,873.3 130.4,873.4 131.4,873.4 132.4,873.4 133.4,873.3 134.4,873.3 135.4,873.2 136.4,873.2 137.4,873.2 138.4,873.6 139.4,873.8 140.4,873.8 141.4,873.5 142.4,873.1 143.4,872.9 144.4,872.9 145.4,872.9 146.4,872.8 147.4,872.9 148.4,872.9 149.3,873.1 150.3,873.1 151.3,873.3 152.3,873.4 153.3,873.5 154.3,873.4 155.3,873.2 156.3,872.9 157.3,872.4 158.3,872.1 159.3,872.0 160.3,872.0 161.3,871.8 162.3,871.4 163.3,871.2 164.3,871.1 165.3,871.4 166.3,871.6 167.3,871.8 168.3,871.8 169.3,871.7 170.3,871.5 171.3,871.4 172.3,871.4 173.3,871.8 174.3,872.3 175.3,872.7 176.3,872.8 177.3,872.7 178.3,872.3 179.3,871.9 180.3,871.7 181.3,871.7 182.3,871.8 183.3,871.8 184.3,871.7 185.3,871.6 186.3,871.7 187.3,871.7 188.3,871.8 189.3,871.7 190.3,871.4 191.2,871.3 192.2,871.4 193.2,871.6 194.2,871.7 195.2,871.6 196.2,871.6 197.2,871.7 198.2,871.9 199.2,872.1 200.2,872.2 201.2,872.2 202.2,872.3 203.2,872.4 204.2,872.6 205.2,872.8 206.2,873.1 207.2,873.3 208.2,873.1 209.2,872.7 210.2,872.5 211.2,872.5 212.2,872.7 213.2,872.9 214.2,872.9 215.2,872.9 216.2,872.8 217.2,872.7 218.2,872.6 219.2,872.6 220.2,872.8 221.2,872.9 222.2,873.0 223.2,872.6 224.2,872.2 225.2,871.7 226.2,871.6 227.2,871.4 228.2,871.2 229.2,870.7 230.2,870.2 231.2,869.4 232.1,868.7 233.1,867.9 234.1,867.2 235.1,866.4 236.1,865.5 237.1,864.5 238.1,863.5 239.1,862.6 240.1,862.0 241.1,862.1 242.1,862.6 243.1,863.2 244.1,863.8 245.1,864.3 246.1,865.1 247.1,866.0 248.1,867.0 249.1,868.0 250.1,868.9 251.1,869.5 252.1,870.0 253.1,870.4 254.1,870.8 255.1,871.1 256.1,871.3 257.1,871.5 258.1,871.8 259.1,872.0 260.1,872.1 261.1,872.2 262.1,872.4 263.1,872.5 264.1,872.5 265.1,872.6 266.1,872.7 267.1,872.9 268.1,872.9 269.1,872.9 270.1,872.7 271.1,872.6 272.1,872.3 273.1,872.1 274.0,871.9 275.0,871.9 276.0,872.0 277.0,872.0 278.0,871.9 279.0,871.7 280.0,871.3 281.0,870.9 282.0,870.4 283.0,869.9 284.0,869.1 285.0,868.4 286.0,867.6 287.0,867.1 288.0,866.6 289.0,866.3 290.0,866.0 291.0,865.6 292.0,865.3 293.0,864.9 294.0,864.5 295.0,863.6 296.0,862.5 297.0,860.8 298.0,858.9 299.0,856.5 300.0,854.3 301.0,852.8 302.0,852.9 303.0,854.2 304.0,856.2 305.0,858.2 306.0,860.0 307.0,861.6 308.0,862.7 309.0,863.6 310.0,864.2 311.0,864.7 312.0,865.2 313.0,865.4 314.0,865.6 315.0,865.5 315.9,865.6 316.9,865.6 317.9,865.5 318.9,865.5 319.9,865.5 320.9,865.3 321.9,864.7 322.9,864.0 323.9,862.9 324.9,861.8 325.9,860.4 326.9,859.3 327.9,858.7 328.9,858.6 329.9,859.0 330.9,859.7 331.9,860.7 332.9,861.8 333.9,863.0 334.9,864.2 335.9,865.2 336.9,866.1 337.9,866.9 338.9,867.7 339.9,868.7 340.9,869.5 341.9,869.9 342.9,870.1 343.9,870.1 344.9,870.4 345.9,870.6 346.9,870.6 347.9,870.4 348.9,870.3 349.9,870.4 350.9,870.5 351.9,870.6 352.9,870.6 353.9,870.5 354.9,870.2 355.9,869.8 356.8,869.4 357.8,868.9 358.8,868.1 359.8,867.2 360.8,865.8 361.8,864.3 362.8,862.1 363.8,859.3 364.8,855.3 365.8,850.3 366.8,843.9 367.8,836.0 368.8,826.8 369.8,816.3 370.8,804.8 371.8,792.8 372.8,781.1 373.8,770.7 374.8,763.1 375.8,759.2 376.8,759.3 377.8,761.2 378.8,764.7 379.8,769.7 380.8,775.7 381.8,782.5 382.8,789.6 383.8,796.7 384.8,803.7 385.8,810.5 386.8,816.9 387.8,823.0 388.8,828.7 389.8,833.9 390.8,838.4 391.8,842.3 392.8,845.9 393.8,849.2 394.8,852.0 395.8,854.4 396.8,856.4 397.8,858.2 398.7,859.9 399.7,861.2 400.7,862.5 401.7,863.5 402.7,864.5 403.7,865.2 404.7,866.0 405.7,866.6 406.7,867.2 407.7,867.7 408.7,868.2 409.7,868.8 410.7,869.2 411.7,869.7 412.7,870.1 413.7,870.6 414.7,870.9 415.7,871.1 416.7,871.5 417.7,872.0 418.7,872.4 419.7,872.3 420.7,872.2 421.7,872.1 422.7,872.2 423.7,872.4 424.7,872.5 425.7,872.7 426.7,872.7 427.7,872.6 428.7,872.6 429.7,872.8 430.7,873.1 431.7,873.4 432.7,873.7 433.7,873.8 434.7,873.8 435.7,873.9 436.7,874.1 437.7,874.3 438.7,874.4 439.7,874.5 440.6,874.6 441.6,874.7 442.6,874.8 443.6,874.7 444.6,874.8 445.6,874.8 446.6,874.9 447.6,874.8 448.6,874.9 449.6,874.9 450.6,875.0 451.6,875.1 452.6,875.3 453.6,875.4 454.6,875.3 455.6,875.2 456.6,875.3 457.6,875.5 458.6,875.6 459.6,875.7 460.6,875.8 461.6,875.8 462.6,875.7 463.6,875.6 464.6,875.7 465.6,875.8 466.6,875.9 467.6,875.8 468.6,875.7 469.6,875.7 470.6,875.9 471.6,876.1 472.6,876.2 473.6,876.0 474.6,875.7 475.6,875.7 476.6,876.0 477.6,876.4 478.6,876.5 479.6,876.3 480.6,876.1 481.5,876.0 482.5,876.1 483.5,876.2 484.5,876.4 485.5,876.6 486.5,876.5 487.5,876.5 488.5,876.4 489.5,876.4 490.5,876.2 491.5,876.1 492.5,876.1 493.5,876.2 494.5,876.2 495.5,876.3 496.5,876.5 497.5,876.7 498.5,876.7 499.5,876.5 500.5,876.3 501.5,876.3 502.5,876.2 503.5,876.3 504.5,876.3 505.5,876.5 506.5,876.7 507.5,876.9 508.5,877.0 509.5,877.1 510.5,877.0 511.5,877.1 512.5,877.0 513.5,877.1 514.5,877.0 515.5,877.0 516.5,876.8 517.5,876.8 518.5,876.7 519.5,876.7 520.5,876.6 521.5,876.5 522.5,876.4 523.4,876.4 524.4,876.7 525.4,877.1 526.4,877.1 527.4,876.9 528.4,876.7 529.4,876.7 530.4,876.8 531.4,876.9 532.4,876.9 533.4,876.7 534.4,876.6 535.4,876.3 536.4,876.1 537.4,876.0 538.4,876.0 539.4,875.9 540.4,875.7 541.4,875.5 542.4,875.6 543.4,875.8 544.4,875.9 545.4,875.6 546.4,875.2 547.4,874.8 548.4,874.6 549.4,874.5 550.4,874.3 551.4,873.9 552.4,873.4 553.4,873.0 554.4,872.6 555.4,872.0 556.4,871.4 557.4,870.5 558.4,869.6 559.4,868.7 560.4,867.8 561.4,867.1 562.4,866.4 563.4,866.1 564.4,866.2 565.3,866.5 566.3,867.3 567.3,868.1 568.3,869.0 569.3,869.7 570.3,870.5 571.3,871.1 572.3,871.8 573.3,872.3 574.3,872.9 575.3,873.5 576.3,873.9 577.3,874.1 578.3,874.4 579.3,874.8 580.3,875.1 581.3,875.0 582.3,874.8 583.3,874.6 584.3,874.5 585.3,874.5 586.3,874.5 587.3,874.5 588.3,874.4 589.3,874.2 590.3,873.9 591.3,873.8 592.3,873.8 593.3,873.9 594.3,873.8 595.3,873.4 596.3,872.7 597.3,872.0 598.3,871.2 599.3,870.4 600.3,869.5 601.3,868.5 602.3,867.5 603.3,866.5 604.3,865.2 605.3,863.8 606.2,862.3 607.2,861.1 608.2,860.2 609.2,859.8 610.2,859.6 611.2,859.7 612.2,860.0 613.2,860.8 614.2,861.6 615.2,862.4 616.2,863.0 617.2,863.6 618.2,864.4 619.2,865.2 620.2,865.9 621.2,866.5 622.2,867.1 623.2,867.5 624.2,867.9 625.2,868.3 626.2,868.8 627.2,869.2 628.2,870.0 629.2,871.0 630.2,872.0 631.2,872.6 632.2,872.8 633.2,873.0 634.2,873.1 635.2,873.5 636.2,873.9 637.2,874.3 638.2,874.6 639.2,874.9 640.2,875.2 641.2,875.4 642.2,875.5 643.2,875.6 644.2,875.7 645.2,875.7 646.2,875.7 647.2,875.7 648.1,875.7 649.1,875.6 650.1,875.7 651.1,875.8 652.1,875.9 653.1,875.9 654.1,876.0 655.1,875.9 656.1,875.9 657.1,875.8 658.1,876.0 659.1,876.2 660.1,876.5 661.1,876.6 662.1,876.4 663.1,876.3 664.1,876.2 665.1,876.3 666.1,876.2 667.1,876.2 668.1,876.1 669.1,876.1 670.1,876.1 671.1,876.2 672.1,876.3 673.1,876.2 674.1,875.8 675.1,875.3 676.1,874.9 677.1,874.8 678.1,875.0 679.1,875.1 680.1,875.0 681.1,874.6 682.1,874.1 683.1,873.7 684.1,873.3 685.1,873.1 686.1,872.7 687.1,872.4 688.1,871.9 689.1,871.6 690.0,871.3 691.0,871.0 692.0,870.5 693.0,869.7 694.0,868.6 695.0,867.5 696.0,866.3 697.0,865.2 698.0,863.8 699.0,862.2 700.0,859.8 701.0,856.9 702.0,853.0 703.0,848.3 704.0,842.3 705.0,834.8 706.0,825.5 707.0,814.1 708.0,800.7 709.0,785.3 710.0,768.2 711.0,750.2 712.0,732.7 713.0,718.0 714.0,708.7 715.0,706.8 716.0,710.9 717.0,719.6 718.0,731.5 719.0,745.4 720.0,760.0 721.0,774.6 722.0,788.6 723.0,801.4 724.0,812.6 725.0,822.2 726.0,830.3 727.0,837.3 728.0,842.9 729.0,847.3 730.0,850.7 730.9,853.5 731.9,855.6 732.9,857.2 733.9,858.2 734.9,858.8 735.9,859.0 736.9,859.0 737.9,858.8 738.9,858.7 739.9,858.6 740.9,858.5 741.9,858.4 742.9,858.3 743.9,858.4 744.9,858.9 745.9,859.5 746.9,860.2 747.9,860.8 748.9,861.5 749.9,862.2 750.9,863.0 751.9,863.7 752.9,864.4 753.9,865.2 754.9,866.0 755.9,866.8 756.9,867.7 757.9,868.4 758.9,869.2 759.9,870.0 760.9,870.8 761.9,871.5 762.9,871.9 763.9,872.1 764.9,872.4 765.9,872.7 766.9,873.1 767.9,873.4 768.9,873.8 769.9,874.0 770.9,874.5 771.9,874.9 772.8,875.3 773.8,875.5 774.8,875.7 775.8,875.6 776.8,875.7 777.8,875.9 778.8,876.4 779.8,876.9 780.8,877.2 781.8,877.3 782.8,877.2 783.8,877.1 784.8,877.1 785.8,877.2 786.8,877.4 787.8,877.5 788.8,877.7 789.8,877.7 790.8,877.7 791.8,877.7 792.8,877.9 793.8,878.0 794.8,878.1 795.8,878.2 796.8,878.4 797.8,878.5 798.8,878.4 799.8,878.3 800.8,878.3 801.8,878.5 802.8,878.6 803.8,878.8 804.8,878.8 805.8,878.9 806.8,878.9 807.8,879.0 808.8,879.0 809.8,879.1 810.8,879.2 811.8,879.2 812.8,879.4 813.8,879.5 814.7,879.6 815.7,879.6 816.7,879.6 817.7,879.6 818.7,879.6 819.7,879.6 820.7,879.7 821.7,879.8 822.7,880.0 823.7,879.8 824.7,879.6 825.7,879.3 826.7,879.2 827.7,879.5 828.7,880.0 829.7,880.5 830.7,880.6 831.7,880.4 832.7,880.1 833.7,880.0 834.7,880.2" fill="none" stroke="#0000ff" stroke-width="2.2" stroke-linejoin="round"/>
<path d="M86.5,1000.1 87.5,998.0 88.5,996.1 89.5,994.5 90.5,993.7 91.5,993.0 92.5,992.3 93.5,992.0 94.5,992.1 95.5,992.7 96.5,992.8 97.5,992.7 98.5,992.5 99.5,992.5 100.5,992.2 101.5,992.2 102.5,992.6 103.5,993.6 104.5,994.6 105.5,995.9 106.5,997.3 107.4,999.1 108.4,1000.7 109.4,1002.4 110.4,1004.2 111.4,1005.9 112.4,1007.1 113.4,1007.5 114.4,1007.6 115.4,1007.8 116.4,1008.6 117.4,1009.5 118.4,1010.2 119.4,1010.3 120.4,1010.4 121.4,1010.4 122.4,1010.4 123.4,1009.9 124.4,1009.4 125.4,1009.2 126.4,1009.9 127.4,1010.6 128.4,1011.4 129.4,1011.4 130.4,1011.7 131.4,1011.8 132.4,1012.1 133.4,1011.9 134.4,1011.6 135.4,1011.4 136.4,1011.2 137.4,1011.1 138.4,1011.2 139.4,1011.2 140.4,1011.4 141.4,1011.5 142.4,1011.8 143.4,1011.5 144.4,1010.9 145.4,1010.2 146.4,1010.0 147.4,1010.2 148.4,1010.7 149.3,1010.7 150.3,1011.0 151.3,1010.8 152.3,1011.0 153.3,1010.5 154.3,1010.3 155.3,1009.8 156.3,1009.7 157.3,1009.7 158.3,1010.1 159.3,1010.2 160.3,1009.9 161.3,1009.5 162.3,1009.3 163.3,1009.6 164.3,1009.7 165.3,1009.4 166.3,1008.8 167.3,1008.6 168.3,1008.5 169.3,1008.5 170.3,1008.3 171.3,1008.3 172.3,1008.9 173.3,1009.7 174.3,1010.5 175.3,1010.9 176.3,1011.0 177.3,1010.8 178.3,1010.8 179.3,1010.9 180.3,1010.8 181.3,1010.8 182.3,1010.7 183.3,1010.5 184.3,1010.2 185.3,1010.0 186.3,1009.8 187.3,1009.7 188.3,1009.5 189.3,1009.3 190.3,1009.3 191.2,1009.8 192.2,1010.5 193.2,1011.3 194.2,1011.4 195.2,1010.9 196.2,1009.8 197.2,1009.0 198.2,1008.6 199.2,1008.9 200.2,1009.5 201.2,1010.4 202.2,1010.9 203.2,1011.1 204.2,1010.7 205.2,1010.6 206.2,1011.1 207.2,1011.8 208.2,1012.1 209.2,1011.5 210.2,1010.7 211.2,1010.1 212.2,1010.0 213.2,1010.1 214.2,1010.4 215.2,1010.7 216.2,1011.0 217.2,1011.1 218.2,1011.0 219.2,1010.8 220.2,1010.9 221.2,1010.7 222.2,1010.4 223.2,1009.6 224.2,1009.3 225.2,1009.4 226.2,1010.0 227.2,1010.4 228.2,1010.4 229.2,1009.8 230.2,1009.1 231.2,1008.3 232.1,1007.8 233.1,1007.3 234.1,1007.0 235.1,1006.7 236.1,1006.3 237.1,1005.8 238.1,1005.4 239.1,1005.3 240.1,1005.3 241.1,1005.1 242.1,1004.9 243.1,1004.8 244.1,1005.2 245.1,1005.8 246.1,1006.7 247.1,1007.5 248.1,1007.9 249.1,1008.3 250.1,1008.4 251.1,1008.8 252.1,1008.9 253.1,1009.5 254.1,1009.8 255.1,1010.1 256.1,1009.8 257.1,1009.3 258.1,1009.1 259.1,1009.5 260.1,1010.1 261.1,1010.4 262.1,1010.6 263.1,1010.5 264.1,1010.5 265.1,1010.6 266.1,1010.9 267.1,1011.3 268.1,1011.3 269.1,1011.2 270.1,1011.2 271.1,1011.2 272.1,1011.5 273.1,1011.4 274.0,1011.5 275.0,1011.1 276.0,1010.9 277.0,1010.3 278.0,1009.6 279.0,1009.1 280.0,1008.8 281.0,1008.6 282.0,1008.3 283.0,1008.1 284.0,1008.2 285.0,1008.1 286.0,1007.6 287.0,1006.7 288.0,1006.3 289.0,1006.1 290.0,1005.8 291.0,1005.3 292.0,1004.8 293.0,1004.6 294.0,1004.2 295.0,1003.6 296.0,1002.1 297.0,1000.2 298.0,997.9 299.0,995.6 300.0,994.3 301.0,994.2 302.0,995.2 303.0,996.2 304.0,998.2 305.0,1000.1 306.0,1002.1 307.0,1003.1 308.0,1003.7 309.0,1003.8 310.0,1004.3 311.0,1004.7 312.0,1005.3 313.0,1005.8 314.0,1006.3 315.0,1006.4 315.9,1006.4 316.9,1005.7 317.9,1005.4 318.9,1005.0 319.9,1004.6 320.9,1004.0 321.9,1003.2 322.9,1002.9 323.9,1002.6 324.9,1002.3 325.9,1001.4 326.9,1000.8 327.9,1000.7 328.9,1001.0 329.9,1001.4 330.9,1001.6 331.9,1002.1 332.9,1002.8 333.9,1003.8 334.9,1004.6 335.9,1005.3 336.9,1006.2 337.9,1007.2 338.9,1007.9 339.9,1008.4 340.9,1008.5 341.9,1008.7 342.9,1008.8 343.9,1008.9 344.9,1008.9 345.9,1009.1 346.9,1009.2 347.9,1009.3 348.9,1009.3 349.9,1009.5 350.9,1009.5 351.9,1009.3 352.9,1008.7 353.9,1008.1 354.9,1007.6 355.9,1006.9 356.8,1006.0 357.8,1005.0 358.8,1004.5 359.8,1004.4 360.8,1004.4 361.8,1003.3 362.8,1000.8 363.8,996.9 364.8,992.5 365.8,987.6 366.8,982.6 367.8,976.4 368.8,969.3 369.8,961.0 370.8,952.0 371.8,942.5 372.8,933.7 373.8,926.3 374.8,921.5 375.8,919.7 376.8,920.5 377.8,923.2 378.8,927.3 379.8,932.7 380.8,938.4 381.8,944.3 382.8,950.0 383.8,955.7 384.8,961.4 385.8,966.7 386.8,971.6 387.8,976.1 388.8,979.8 389.8,982.9 390.8,985.3 391.8,987.7 392.8,990.1 393.8,992.5 394.8,994.4 395.8,996.3 396.8,997.9 397.8,999.6 398.7,1000.9 399.7,1002.0 400.7,1002.8 401.7,1003.7 402.7,1004.6 403.7,1005.2 404.7,1005.9 405.7,1006.1 406.7,1006.3 407.7,1006.3 408.7,1006.8 409.7,1006.8 410.7,1006.8 411.7,1006.6 412.7,1007.1 413.7,1007.8 414.7,1008.3 415.7,1008.3 416.7,1008.6 417.7,1009.1 418.7,1009.8 419.7,1010.3 420.7,1010.7 421.7,1010.5 422.7,1010.4 423.7,1010.1 424.7,1010.4 425.7,1010.7 426.7,1011.1 427.7,1011.3 428.7,1011.6 429.7,1012.1 430.7,1012.5 431.7,1012.5 432.7,1011.7 433.7,1010.8 434.7,1010.6 435.7,1011.0 436.7,1011.7 437.7,1012.0 438.7,1012.4 439.7,1012.5 440.6,1012.1 441.6,1011.7 442.6,1011.6 443.6,1011.9 444.6,1012.1 445.6,1012.4 446.6,1012.3 447.6,1012.5 448.6,1012.5 449.6,1013.0 450.6,1013.1 451.6,1013.3 452.6,1012.6 453.6,1012.4 454.6,1012.0 455.6,1011.8 456.6,1011.7 457.6,1011.9 458.6,1012.3 459.6,1012.4 460.6,1012.0 461.6,1011.5 462.6,1011.6 463.6,1012.3 464.6,1013.5 465.6,1014.1 466.6,1013.8 467.6,1013.2 468.6,1012.8 469.6,1013.3 470.6,1013.6 471.6,1013.7 472.6,1013.0 473.6,1012.8 474.6,1012.4 475.6,1012.4 476.6,1012.7 477.6,1013.4 478.6,1013.8 479.6,1013.4 480.6,1013.0 481.5,1012.8 482.5,1013.5 483.5,1013.8 484.5,1014.0 485.5,1013.9 486.5,1013.9 487.5,1013.7 488.5,1013.5 489.5,1013.3 490.5,1013.1 491.5,1012.8 492.5,1012.2 493.5,1011.9 494.5,1012.4 495.5,1013.2 496.5,1013.5 497.5,1013.3 498.5,1013.1 499.5,1013.5 500.5,1013.9 501.5,1014.0 502.5,1013.6 503.5,1013.4 504.5,1013.5 505.5,1013.9 506.5,1014.2 507.5,1014.4 508.5,1014.7 509.5,1014.5 510.5,1014.2 511.5,1013.4 512.5,1013.1 513.5,1013.0 514.5,1013.5 515.5,1014.0 516.5,1014.7 517.5,1014.7 518.5,1014.5 519.5,1014.0 520.5,1014.0 521.5,1013.8 522.5,1013.5 523.4,1012.9 524.4,1012.9 525.4,1013.3 526.4,1014.2 527.4,1014.7 528.4,1015.1 529.4,1015.1 530.4,1015.3 531.4,1015.2 532.4,1015.0 533.4,1014.4 534.4,1013.9 535.4,1013.5 536.4,1013.4 537.4,1013.3 538.4,1013.2 539.4,1013.4 540.4,1014.0 541.4,1014.6 542.4,1014.4 543.4,1014.1 544.4,1013.7 545.4,1013.7 546.4,1013.6 547.4,1013.5 548.4,1013.0 549.4,1012.4 550.4,1011.7 551.4,1011.0 552.4,1011.0 553.4,1011.4 554.4,1011.5 555.4,1011.0 556.4,1010.5 557.4,1010.0 558.4,1009.5 559.4,1008.7 560.4,1007.2 561.4,1005.7 562.4,1004.7 563.4,1005.0 564.4,1005.7 565.3,1006.6 566.3,1007.0 567.3,1007.6 568.3,1008.4 569.3,1009.8 570.3,1010.6 571.3,1011.1 572.3,1010.7 573.3,1010.4 574.3,1010.1 575.3,1010.7 576.3,1011.5 577.3,1012.5 578.3,1013.0 579.3,1013.1 580.3,1013.3 581.3,1013.8 582.3,1014.4 583.3,1014.7 584.3,1014.4 585.3,1013.9 586.3,1013.6 587.3,1013.2 588.3,1012.7 589.3,1012.3 590.3,1012.1 591.3,1012.2 592.3,1012.1 593.3,1011.9 594.3,1011.3 595.3,1011.0 596.3,1011.2 597.3,1011.6 598.3,1011.7 599.3,1010.9 600.3,1009.7 601.3,1008.2 602.3,1007.3 603.3,1006.6 604.3,1006.0 605.3,1004.8 606.2,1003.2 607.2,1001.7 608.2,1001.0 609.2,1000.7 610.2,1000.9 611.2,1000.8 612.2,1000.7 613.2,1000.4 614.2,1000.3 615.2,1000.7 616.2,1002.0 617.2,1003.8 618.2,1005.0 619.2,1005.6 620.2,1005.5 621.2,1005.4 622.2,1005.7 623.2,1006.5 624.2,1007.3 625.2,1007.9 626.2,1008.1 627.2,1008.2 628.2,1008.4 629.2,1008.7 630.2,1009.3 631.2,1009.8 632.2,1010.5 633.2,1011.2 634.2,1012.1 635.2,1012.7 636.2,1012.6 637.2,1012.0 638.2,1011.6 639.2,1011.5 640.2,1012.1 641.2,1012.6 642.2,1013.3 643.2,1013.3 644.2,1013.2 645.2,1012.9 646.2,1012.7 647.2,1012.5 648.1,1012.3 649.1,1012.2 650.1,1012.3 651.1,1012.6 652.1,1012.9 653.1,1013.3 654.1,1013.5 655.1,1013.5 656.1,1013.4 657.1,1013.5 658.1,1013.6 659.1,1013.7 660.1,1013.7 661.1,1013.5 662.1,1013.2 663.1,1012.9 664.1,1012.5 665.1,1012.4 666.1,1012.5 667.1,1013.2 668.1,1013.6 669.1,1013.5 670.1,1012.6 671.1,1012.0 672.1,1011.7 673.1,1011.7 674.1,1011.7 675.1,1011.4 676.1,1011.4 677.1,1011.4 678.1,1011.9 679.1,1011.9 680.1,1011.6 681.1,1011.1 682.1,1010.8 683.1,1010.7 684.1,1010.6 685.1,1010.3 686.1,1010.0 687.1,1010.1 688.1,1010.1 689.1,1009.6 690.0,1008.5 691.0,1007.1 692.0,1006.2 693.0,1005.4 694.0,1005.0 695.0,1004.4 696.0,1004.0 697.0,1002.6 698.0,1000.8 699.0,998.6 700.0,996.5 701.0,993.7 702.0,990.0 703.0,985.1 704.0,979.3 705.0,972.4 706.0,964.9 707.0,957.1 708.0,948.7 709.0,939.3 710.0,929.0 711.0,918.4 712.0,908.0 713.0,897.9 714.0,888.9 715.0,882.6 716.0,879.9 717.0,881.4 718.0,886.2 719.0,894.2 720.0,904.0 721.0,915.6 722.0,927.6 723.0,939.4 724.0,950.6 725.0,960.3 726.0,968.8 727.0,975.4 728.0,980.8 729.0,985.1 730.0,988.8 730.9,991.8 731.9,994.5 732.9,996.7 733.9,998.2 734.9,999.3 735.9,1000.1 736.9,1001.0 737.9,1001.6 738.9,1002.3 739.9,1002.3 740.9,1001.9 741.9,1001.3 742.9,1001.1 743.9,1001.3 744.9,1001.5 745.9,1001.9 746.9,1002.1 747.9,1002.9 748.9,1003.0 749.9,1003.3 750.9,1003.0 751.9,1003.9 752.9,1004.6 753.9,1005.5 754.9,1005.6 755.9,1005.7 756.9,1006.0 757.9,1006.4 758.9,1007.1 759.9,1007.5 760.9,1008.0 761.9,1008.2 762.9,1008.8 763.9,1009.1 764.9,1009.9 765.9,1010.2 766.9,1010.8 767.9,1011.0 768.9,1011.4 769.9,1011.9 770.9,1012.7 771.9,1013.2 772.8,1013.8 773.8,1014.3 774.8,1014.6 775.8,1014.5 776.8,1014.4 777.8,1014.6 778.8,1014.9 779.8,1014.8 780.8,1014.3 781.8,1013.7 782.8,1013.8 783.8,1014.1 784.8,1014.8 785.8,1015.1 786.8,1015.5 787.8,1015.6 788.8,1015.5 789.8,1014.9 790.8,1014.4 791.8,1014.2 792.8,1014.5 793.8,1015.1 794.8,1015.6 795.8,1016.0 796.8,1015.8 797.8,1015.8 798.8,1015.8 799.8,1016.5 800.8,1016.7 801.8,1016.6 802.8,1016.1 803.8,1015.8 804.8,1015.8 805.8,1016.0 806.8,1016.3 807.8,1016.7 808.8,1016.8 809.8,1016.8 810.8,1016.7 811.8,1016.9 812.8,1016.8 813.8,1016.7 814.7,1016.3 815.7,1016.3 816.7,1016.2 817.7,1016.4 818.7,1016.5 819.7,1017.0 820.7,1017.3 821.7,1017.3 822.7,1016.6 823.7,1016.1 824.7,1016.1 825.7,1016.5 826.7,1016.6 827.7,1016.6 828.7,1016.4 829.7,1017.1 830.7,1017.5 831.7,1017.7 832.7,1017.1 833.7,1016.7 834.7,1016.5 M86.5,1000.9 87.5,998.8 88.5,996.9 89.5,995.3 90.5,994.5 91.5,993.8 92.5,993.1 93.5,992.8 94.5,992.9 95.5,993.5 96.5,993.6 97.5,993.5 98.5,993.3 99.5,993.3 100.5,993.0 101.5,993.0 102.5,993.4 103.5,994.4 104.5,995.4 105.5,996.7 106.5,998.1 107.4,999.9 108.4,1001.5 109.4,1003.2 110.4,1005.0 111.4,1006.7 112.4,1007.9 113.4,1008.3 114.4,1008.4 115.4,1008.6 116.4,1009.4 117.4,1010.3 118.4,1011.0 119.4,1011.1 120.4,1011.2 121.4,1011.2 122.4,1011.2 123.4,1010.7 124.4,1010.2 125.4,1010.0 126.4,1010.7 127.4,1011.4 128.4,1012.2 129.4,1012.2 130.4,1012.5 131.4,1012.6 132.4,1012.9 133.4,1012.7 134.4,1012.4 135.4,1012.2 136.4,1012.0 137.4,1011.9 138.4,1012.0 139.4,1012.0 140.4,1012.2 141.4,1012.3 142.4,1012.6 143.4,1012.3 144.4,1011.7 145.4,1011.0 146.4,1010.8 147.4,1011.0 148.4,1011.5 149.3,1011.5 150.3,1011.8 151.3,1011.6 152.3,1011.8 153.3,1011.3 154.3,1011.1 155.3,1010.6 156.3,1010.5 157.3,1010.5 158.3,1010.9 159.3,1011.0 160.3,1010.7 161.3,1010.3 162.3,1010.1 163.3,1010.4 164.3,1010.5 165.3,1010.2 166.3,1009.6 167.3,1009.4 168.3,1009.3 169.3,1009.3 170.3,1009.1 171.3,1009.1 172.3,1009.7 173.3,1010.5 174.3,1011.3 175.3,1011.7 176.3,1011.8 177.3,1011.6 178.3,1011.6 179.3,1011.7 180.3,1011.6 181.3,1011.6 182.3,1011.5 183.3,1011.3 184.3,1011.0 185.3,1010.8 186.3,1010.6 187.3,1010.5 188.3,1010.3 189.3,1010.1 190.3,1010.1 191.2,1010.6 192.2,1011.3 193.2,1012.1 194.2,1012.2 195.2,1011.7 196.2,1010.6 197.2,1009.8 198.2,1009.4 199.2,1009.7 200.2,1010.3 201.2,1011.2 202.2,1011.7 203.2,1011.9 204.2,1011.5 205.2,1011.4 206.2,1011.9 207.2,1012.6 208.2,1012.9 209.2,1012.3 210.2,1011.5 211.2,1010.9 212.2,1010.8 213.2,1010.9 214.2,1011.2 215.2,1011.5 216.2,1011.8 217.2,1011.9 218.2,1011.8 219.2,1011.6 220.2,1011.7 221.2,1011.5 222.2,1011.2 223.2,1010.4 224.2,1010.1 225.2,1010.2 226.2,1010.8 227.2,1011.2 228.2,1011.2 229.2,1010.6 230.2,1009.9 231.2,1009.1 232.1,1008.6 233.1,1008.1 234.1,1007.8 235.1,1007.5 236.1,1007.1 237.1,1006.6 238.1,1006.2 239.1,1006.1 240.1,1006.1 241.1,1005.9 242.1,1005.7 243.1,1005.6 244.1,1006.0 245.1,1006.6 246.1,1007.5 247.1,1008.3 248.1,1008.7 249.1,1009.1 250.1,1009.2 251.1,1009.6 252.1,1009.7 253.1,1010.3 254.1,1010.6 255.1,1010.9 256.1,1010.6 257.1,1010.1 258.1,1009.9 259.1,1010.3 260.1,1010.9 261.1,1011.2 262.1,1011.4 263.1,1011.3 264.1,1011.3 265.1,1011.4 266.1,1011.7 267.1,1012.1 268.1,1012.1 269.1,1012.0 270.1,1012.0 271.1,1012.0 272.1,1012.3 273.1,1012.2 274.0,1012.3 275.0,1011.9 276.0,1011.7 277.0,1011.1 278.0,1010.4 279.0,1009.9 280.0,1009.6 281.0,1009.4 282.0,1009.1 283.0,1008.9 284.0,1009.0 285.0,1008.9 286.0,1008.4 287.0,1007.5 288.0,1007.1 289.0,1006.9 290.0,1006.6 291.0,1006.1 292.0,1005.6 293.0,1005.4 294.0,1005.0 295.0,1004.4 296.0,1002.9 297.0,1001.0 298.0,998.7 299.0,996.4 300.0,995.1 301.0,995.0 302.0,996.0 303.0,997.0 304.0,999.0 305.0,1000.9 306.0,1002.9 307.0,1003.9 308.0,1004.5 309.0,1004.6 310.0,1005.1 311.0,1005.5 312.0,1006.1 313.0,1006.6 314.0,1007.1 315.0,1007.2 315.9,1007.2 316.9,1006.5 317.9,1006.2 318.9,1005.8 319.9,1005.4 320.9,1004.8 321.9,1004.0 322.9,1003.7 323.9,1003.4 324.9,1003.1 325.9,1002.2 326.9,1001.6 327.9,1001.5 328.9,1001.8 329.9,1002.2 330.9,1002.4 331.9,1002.9 332.9,1003.6 333.9,1004.6 334.9,1005.4 335.9,1006.1 336.9,1007.0 337.9,1008.0 338.9,1008.7 339.9,1009.2 340.9,1009.3 341.9,1009.5 342.9,1009.6 343.9,1009.7 344.9,1009.7 345.9,1009.9 346.9,1010.0 347.9,1010.1 348.9,1010.1 349.9,1010.3 350.9,1010.3 351.9,1010.1 352.9,1009.5 353.9,1008.9 354.9,1008.4 355.9,1007.7 356.8,1006.8 357.8,1005.8 358.8,1005.3 359.8,1005.2 360.8,1005.2 361.8,1004.1 362.8,1001.6 363.8,997.7 364.8,993.3 365.8,988.4 366.8,983.4 367.8,977.2 368.8,970.1 369.8,961.8 370.8,952.8 371.8,943.3 372.8,934.5 373.8,927.1 374.8,922.3 375.8,920.5 376.8,921.3 377.8,924.0 378.8,928.1 379.8,933.5 380.8,939.2 381.8,945.1 382.8,950.8 383.8,956.5 384.8,962.2 385.8,967.5 386.8,972.4 387.8,976.9 388.8,980.6 389.8,983.7 390.8,986.1 391.8,988.5 392.8,990.9 393.8,993.3 394.8,995.2 395.8,997.1 396.8,998.7 397.8,1000.4 398.7,1001.7 399.7,1002.8 400.7,1003.6 401.7,1004.5 402.7,1005.4 403.7,1006.0 404.7,1006.7 405.7,1006.9 406.7,1007.1 407.7,1007.1 408.7,1007.6 409.7,1007.6 410.7,1007.6 411.7,1007.4 412.7,1007.9 413.7,1008.6 414.7,1009.1 415.7,1009.1 416.7,1009.4 417.7,1009.9 418.7,1010.6 419.7,1011.1 420.7,1011.5 421.7,1011.3 422.7,1011.2 423.7,1010.9 424.7,1011.2 425.7,1011.5 426.7,1011.9 427.7,1012.1 428.7,1012.4 429.7,1012.9 430.7,1013.3 431.7,1013.3 432.7,1012.5 433.7,1011.6 434.7,1011.4 435.7,1011.8 436.7,1012.5 437.7,1012.8 438.7,1013.2 439.7,1013.3 440.6,1012.9 441.6,1012.5 442.6,1012.4 443.6,1012.7 444.6,1012.9 445.6,1013.2 446.6,1013.1 447.6,1013.3 448.6,1013.3 449.6,1013.8 450.6,1013.9 451.6,1014.1 452.6,1013.4 453.6,1013.2 454.6,1012.8 455.6,1012.6 456.6,1012.5 457.6,1012.7 458.6,1013.1 459.6,1013.2 460.6,1012.8 461.6,1012.3 462.6,1012.4 463.6,1013.1 464.6,1014.3 465.6,1014.9 466.6,1014.6 467.6,1014.0 468.6,1013.6 469.6,1014.1 470.6,1014.4 471.6,1014.5 472.6,1013.8 473.6,1013.6 474.6,1013.2 475.6,1013.2 476.6,1013.5 477.6,1014.2 478.6,1014.6 479.6,1014.2 480.6,1013.8 481.5,1013.6 482.5,1014.3 483.5,1014.6 484.5,1014.8 485.5,1014.7 486.5,1014.7 487.5,1014.5 488.5,1014.3 489.5,1014.1 490.5,1013.9 491.5,1013.6 492.5,1013.0 493.5,1012.7 494.5,1013.2 495.5,1014.0 496.5,1014.3 497.5,1014.1 498.5,1013.9 499.5,1014.3 500.5,1014.7 501.5,1014.8 502.5,1014.4 503.5,1014.2 504.5,1014.3 505.5,1014.7 506.5,1015.0 507.5,1015.2 508.5,1015.5 509.5,1015.3 510.5,1015.0 511.5,1014.2 512.5,1013.9 513.5,1013.8 514.5,1014.3 515.5,1014.8 516.5,1015.5 517.5,1015.5 518.5,1015.3 519.5,1014.8 520.5,1014.8 521.5,1014.6 522.5,1014.3 523.4,1013.7 524.4,1013.7 525.4,1014.1 526.4,1015.0 527.4,1015.5 528.4,1015.9 529.4,1015.9 530.4,1016.1 531.4,1016.0 532.4,1015.8 533.4,1015.2 534.4,1014.7 535.4,1014.3 536.4,1014.2 537.4,1014.1 538.4,1014.0 539.4,1014.2 540.4,1014.8 541.4,1015.4 542.4,1015.2 543.4,1014.9 544.4,1014.5 545.4,1014.5 546.4,1014.4 547.4,1014.3 548.4,1013.8 549.4,1013.2 550.4,1012.5 551.4,1011.8 552.4,1011.8 553.4,1012.2 554.4,1012.3 555.4,1011.8 556.4,1011.3 557.4,1010.8 558.4,1010.3 559.4,1009.5 560.4,1008.0 561.4,1006.5 562.4,1005.5 563.4,1005.8 564.4,1006.5 565.3,1007.4 566.3,1007.8 567.3,1008.4 568.3,1009.2 569.3,1010.6 570.3,1011.4 571.3,1011.9 572.3,1011.5 573.3,1011.2 574.3,1010.9 575.3,1011.5 576.3,1012.3 577.3,1013.3 578.3,1013.8 579.3,1013.9 580.3,1014.1 581.3,1014.6 582.3,1015.2 583.3,1015.5 584.3,1015.2 585.3,1014.7 586.3,1014.4 587.3,1014.0 588.3,1013.5 589.3,1013.1 590.3,1012.9 591.3,1013.0 592.3,1012.9 593.3,1012.7 594.3,1012.1 595.3,1011.8 596.3,1012.0 597.3,1012.4 598.3,1012.5 599.3,1011.7 600.3,1010.5 601.3,1009.0 602.3,1008.1 603.3,1007.4 604.3,1006.8 605.3,1005.6 606.2,1004.0 607.2,1002.5 608.2,1001.8 609.2,1001.5 610.2,1001.7 611.2,1001.6 612.2,1001.5 613.2,1001.2 614.2,1001.1 615.2,1001.5 616.2,1002.8 617.2,1004.6 618.2,1005.8 619.2,1006.4 620.2,1006.3 621.2,1006.2 622.2,1006.5 623.2,1007.3 624.2,1008.1 625.2,1008.7 626.2,1008.9 627.2,1009.0 628.2,1009.2 629.2,1009.5 630.2,1010.1 631.2,1010.6 632.2,1011.3 633.2,1012.0 634.2,1012.9 635.2,1013.5 636.2,1013.4 637.2,1012.8 638.2,1012.4 639.2,1012.3 640.2,1012.9 641.2,1013.4 642.2,1014.1 643.2,1014.1 644.2,1014.0 645.2,1013.7 646.2,1013.5 647.2,1013.3 648.1,1013.1 649.1,1013.0 650.1,1013.1 651.1,1013.4 652.1,1013.7 653.1,1014.1 654.1,1014.3 655.1,1014.3 656.1,1014.2 657.1,1014.3 658.1,1014.4 659.1,1014.5 660.1,1014.5 661.1,1014.3 662.1,1014.0 663.1,1013.7 664.1,1013.3 665.1,1013.2 666.1,1013.3 667.1,1014.0 668.1,1014.4 669.1,1014.3 670.1,1013.4 671.1,1012.8 672.1,1012.5 673.1,1012.5 674.1,1012.5 675.1,1012.2 676.1,1012.2 677.1,1012.2 678.1,1012.7 679.1,1012.7 680.1,1012.4 681.1,1011.9 682.1,1011.6 683.1,1011.5 684.1,1011.4 685.1,1011.1 686.1,1010.8 687.1,1010.9 688.1,1010.9 689.1,1010.4 690.0,1009.3 691.0,1007.9 692.0,1007.0 693.0,1006.2 694.0,1005.8 695.0,1005.2 696.0,1004.8 697.0,1003.4 698.0,1001.6 699.0,999.4 700.0,997.3 701.0,994.5 702.0,990.8 703.0,985.9 704.0,980.1 705.0,973.2 706.0,965.7 707.0,957.9 708.0,949.5 709.0,940.1 710.0,929.8 711.0,919.2 712.0,908.8 713.0,898.7 714.0,889.7 715.0,883.4 716.0,880.7 717.0,882.2 718.0,887.0 719.0,895.0 720.0,904.8 721.0,916.4 722.0,928.4 723.0,940.2 724.0,951.4 725.0,961.1 726.0,969.6 727.0,976.2 728.0,981.6 729.0,985.9 730.0,989.6 730.9,992.6 731.9,995.3 732.9,997.5 733.9,999.0 734.9,1000.1 735.9,1000.9 736.9,1001.8 737.9,1002.4 738.9,1003.1 739.9,1003.1 740.9,1002.7 741.9,1002.1 742.9,1001.9 743.9,1002.1 744.9,1002.3 745.9,1002.7 746.9,1002.9 747.9,1003.7 748.9,1003.8 749.9,1004.1 750.9,1003.8 751.9,1004.7 752.9,1005.4 753.9,1006.3 754.9,1006.4 755.9,1006.5 756.9,1006.8 757.9,1007.2 758.9,1007.9 759.9,1008.3 760.9,1008.8 761.9,1009.0 762.9,1009.6 763.9,1009.9 764.9,1010.7 765.9,1011.0 766.9,1011.6 767.9,1011.8 768.9,1012.2 769.9,1012.7 770.9,1013.5 771.9,1014.0 772.8,1014.6 773.8,1015.1 774.8,1015.4 775.8,1015.3 776.8,1015.2 777.8,1015.4 778.8,1015.7 779.8,1015.6 780.8,1015.1 781.8,1014.5 782.8,1014.6 783.8,1014.9 784.8,1015.6 785.8,1015.9 786.8,1016.3 787.8,1016.4 788.8,1016.3 789.8,1015.7 790.8,1015.2 791.8,1015.0 792.8,1015.3 793.8,1015.9 794.8,1016.4 795.8,1016.8 796.8,1016.6 797.8,1016.6 798.8,1016.6 799.8,1017.3 800.8,1017.5 801.8,1017.4 802.8,1016.9 803.8,1016.6 804.8,1016.6 805.8,1016.8 806.8,1017.1 807.8,1017.5 808.8,1017.6 809.8,1017.6 810.8,1017.5 811.8,1017.7 812.8,1017.6 813.8,1017.5 814.7,1017.1 815.7,1017.1 816.7,1017.0 817.7,1017.2 818.7,1017.3 819.7,1017.8 820.7,1018.1 821.7,1018.1 822.7,1017.4 823.7,1016.9 824.7,1016.9 825.7,1017.3 826.7,1017.4 827.7,1017.4 828.7,1017.2 829.7,1017.9 830.7,1018.3 831.7,1018.5 832.7,1017.9 833.7,1017.5 834.7,1017.3" fill="none" stroke="#ff0000" stroke-width="1.9" stroke-linejoin="round"/>
<line x1="377.9" x2="377.9" y1="184.6" y2="1012.7" stroke="#808080" stroke-width="4.1" stroke-dasharray="10.1 8.51"/>
<line x1="717.5" x2="717.5" y1="126.7" y2="1008" stroke="#808080" stroke-width="4.1" stroke-dasharray="10.1 8.49"/>
<rect x="86.5" y="23.1" width="748.2" height="1012.6" fill="none" stroke="#000" stroke-width="2.2"/>
<line x1="161.32" x2="161.32" y1="1035.7" y2="1029.7" stroke="#000" stroke-width="1.9"/>
<line x1="236.14" x2="236.14" y1="1035.7" y2="1024.2" stroke="#000" stroke-width="1.9"/>
<line x1="310.96" x2="310.96" y1="1035.7" y2="1029.7" stroke="#000" stroke-width="1.9"/>
<line x1="385.78" x2="385.78" y1="1035.7" y2="1024.2" stroke="#000" stroke-width="1.9"/>
<line x1="460.6" x2="460.6" y1="1035.7" y2="1029.7" stroke="#000" stroke-width="1.9"/>
<line x1="535.42" x2="535.42" y1="1035.7" y2="1024.2" stroke="#000" stroke-width="1.9"/>
<line x1="610.24" x2="610.24" y1="1035.7" y2="1029.7" stroke="#000" stroke-width="1.9"/>
<line x1="685.06" x2="685.06" y1="1035.7" y2="1024.2" stroke="#000" stroke-width="1.9"/>
<line x1="759.88" x2="759.88" y1="1035.7" y2="1029.7" stroke="#000" stroke-width="1.9"/>
<g font-family='"Liberation Sans", Arial, Helvetica, sans-serif' font-size="34.5" text-anchor="middle" fill="#000">
<text x="86.5" y="1075.6">50</text>
<text x="236.14" y="1075.6">100</text>
<text x="385.78" y="1075.6">150</text>
<text x="535.42" y="1075.6">200</text>
<text x="685.06" y="1075.6">250</text>
<text x="834.7" y="1075.6">300</text>
</g>
<text x="322.9" y="1142.7" font-family='"Liberation Sans", Arial, Helvetica, sans-serif' font-size="37.2" fill="#000">Raman shift (cm<tspan font-size="25.5" dy="-15.6">-1</tspan><tspan dy="15.6">)</tspan></text>
<text transform="translate(29,703.3) rotate(-90)" font-family='"Liberation Sans", Arial, Helvetica, sans-serif' font-size="37.5" fill="#000">Intensity (a.u.)</text>
<g font-family='"Liberation Sans", Arial, Helvetica, sans-serif' font-size="31.2" fill="#000">
<line x1="109.5" x2="179.5" y1="55.3" y2="55.3" stroke="#ff0000" stroke-width="2.8" stroke-linecap="round"/>
<text x="188.3" y="66.3">3L</text>
<line x1="109.5" x2="179.5" y1="94.2" y2="94.2" stroke="#0000ff" stroke-width="2.8" stroke-linecap="round"/>
<text x="188.3" y="105.2">5L</text>
<line x1="109.5" x2="179.5" y1="132.6" y2="132.6" stroke="#ff6a00" stroke-width="2.8" stroke-linecap="round"/>
<text x="188.3" y="143.6">8L</text>
<line x1="109.5" x2="179.5" y1="171.3" y2="171.3" stroke="#ff00ff" stroke-width="2.8" stroke-linecap="round"/>
<text x="188.3" y="182.3">12L</text>
<line x1="109.5" x2="179.5" y1="210.0" y2="210.0" stroke="#00502d" stroke-width="2.8" stroke-linecap="round"/>
<text x="188.3" y="221">15L</text>
</g>
<text x="314.6" y="178.8" font-family='"Liberation Serif", "Times New Roman", Times, serif' font-size="33" fill="#000"><tspan font-style="italic">A</tspan><tspan font-size="20.79" dy="7.52">g</tspan><tspan font-size="20.79" dy="-20.72" dx="0.99">1</tspan><tspan dy="13.2" dx="0.6">+</tspan><tspan font-style="italic" dx="0.4">B</tspan><tspan font-size="20.79" dy="7.52" dx="0.8">1g</tspan><tspan font-size="20.79" dy="-20.72" dx="0.99">1</tspan></text>
<text x="696.8" y="105.5" font-family='"Liberation Serif", "Times New Roman", Times, serif' font-size="33" fill="#000"><tspan font-style="italic">A</tspan><tspan font-size="20.79" dy="7.52">g</tspan><tspan font-size="20.79" dy="-20.72" dx="-0.4">3</tspan></text>
<text x="531.3" y="339" font-family='"Liberation Serif", "Times New Roman", Times, serif' font-size="33" fill="#000"><tspan font-style="italic">A</tspan><tspan font-size="20.79" dy="7.52">g</tspan><tspan font-size="20.79" dy="-20.72" dx="-0.4">2</tspan></text>
<text x="593.5" y="334.7" font-family='"Liberation Serif", "Times New Roman", Times, serif' font-size="33" fill="#000"><tspan font-style="italic">B</tspan><tspan font-size="20.79" dy="7.52">1g</tspan><tspan font-size="20.79" dy="-20.72" dx="-0.4">2</tspan></text>
<text x="752.7" y="350.8" font-family='"Liberation Serif", "Times New Roman", Times, serif' font-size="33" fill="#000"><tspan font-style="italic">B</tspan><tspan font-size="20.79" dy="7.52">1g</tspan><tspan font-size="20.79" dy="-20.72" dx="-0.4">3</tspan></text>
<text x="3.1" y="31.7" font-family='"Liberation Sans", Arial, Helvetica, sans-serif' font-weight="bold" font-size="43.3" fill="#000">a</text>
</g>
<g id="panel-b">
<line x1="1112.9" y1="43.47" x2="1153.98" y2="112.93" stroke="#ff00ff" stroke-width="1.9" stroke-linecap="round"/>
<line x1="1166.48" y1="124.12" x2="1225.51" y2="150.78" stroke="#ff00ff" stroke-width="1.9" stroke-linecap="round"/>
<line x1="1242.19" y1="155.95" x2="1324.95" y2="170.75" stroke="#ff00ff" stroke-width="1.9" stroke-linecap="round"/>
<line x1="1341.7" y1="175.77" x2="1400.59" y2="201.03" stroke="#ff00ff" stroke-width="1.9" stroke-linecap="round"/>
<rect x="1102.82" y="30.3" width="11.2" height="11.2" fill="#ff00ff"/>
<rect x="1152.86" y="114.9" width="11.2" height="11.2" fill="#ff00ff"/>
<rect x="1227.93" y="148.8" width="11.2" height="11.2" fill="#ff00ff"/>
<rect x="1328.01" y="166.7" width="11.2" height="11.2" fill="#ff00ff"/>
<rect x="1403.08" y="198.9" width="11.2" height="11.2" fill="#ff00ff"/>
<line x1="1466.75" y1="48.81" x2="1500.74" y2="64.09" stroke="#ff7a05" stroke-width="1.9" stroke-linecap="round"/>
<line x1="1515.72" y1="73.09" x2="1576.87" y2="120.51" stroke="#ff7a05" stroke-width="1.9" stroke-linecap="round"/>
<line x1="1590.95" y1="131.07" x2="1676.79" y2="193.33" stroke="#ff7a05" stroke-width="1.9" stroke-linecap="round"/>
<line x1="1692.59" y1="199.95" x2="1750.3" y2="209.55" stroke="#ff7a05" stroke-width="1.9" stroke-linecap="round"/>
<path d="M1458.72,37.3 L1466.32,45.2 L1458.72,53.1 L1451.12,45.2 Z" fill="#ff7a05"/>
<path d="M1508.76,59.8 L1516.36,67.7 L1508.76,75.6 L1501.16,67.7 Z" fill="#ff7a05"/>
<path d="M1583.83,118 L1591.43,125.9 L1583.83,133.8 L1576.23,125.9 Z" fill="#ff7a05"/>
<path d="M1683.91,190.6 L1691.51,198.5 L1683.91,206.4 L1676.31,198.5 Z" fill="#ff7a05"/>
<path d="M1758.98,203.1 L1766.58,211 L1758.98,218.9 L1751.38,211 Z" fill="#ff7a05"/>
<line x1="1113.18" y1="277.4" x2="1153.7" y2="340.4" stroke="#0000ff" stroke-width="1.9" stroke-linecap="round"/>
<line x1="1164.74" y1="353.97" x2="1227.26" y2="415.53" stroke="#0000ff" stroke-width="1.9" stroke-linecap="round"/>
<line x1="1242.18" y1="423.32" x2="1324.96" y2="438.78" stroke="#0000ff" stroke-width="1.9" stroke-linecap="round"/>
<line x1="1342.39" y1="441.07" x2="1399.9" y2="445.43" stroke="#0000ff" stroke-width="1.9" stroke-linecap="round"/>
<circle cx="1108.42" cy="270" r="6.1" fill="#0000ff"/>
<circle cx="1158.46" cy="347.8" r="6.1" fill="#0000ff"/>
<circle cx="1233.53" cy="421.7" r="6.1" fill="#0000ff"/>
<circle cx="1333.61" cy="440.4" r="6.1" fill="#0000ff"/>
<circle cx="1408.68" cy="446.1" r="6.1" fill="#0000ff"/>
<line x1="1464.56" y1="276.78" x2="1502.92" y2="320.02" stroke="#ff0000" stroke-width="1.9" stroke-linecap="round"/>
<line x1="1515.47" y1="332.29" x2="1577.12" y2="384.61" stroke="#ff0000" stroke-width="1.9" stroke-linecap="round"/>
<line x1="1592.4" y1="392.31" x2="1675.35" y2="411.79" stroke="#ff0000" stroke-width="1.9" stroke-linecap="round"/>
<line x1="1692.26" y1="416.6" x2="1750.64" y2="436.2" stroke="#ff0000" stroke-width="1.9" stroke-linecap="round"/>
<path d="M1458.72,261.8 L1466.12,274.5 L1451.32,274.5 Z" fill="#ff0000"/>
<path d="M1508.76,318.2 L1516.16,330.9 L1501.36,330.9 Z" fill="#ff0000"/>
<path d="M1583.83,381.9 L1591.23,394.6 L1576.43,394.6 Z" fill="#ff0000"/>
<path d="M1683.91,405.4 L1691.31,418.1 L1676.51,418.1 Z" fill="#ff0000"/>
<path d="M1758.98,430.6 L1766.38,443.3 L1751.58,443.3 Z" fill="#ff0000"/>
<rect x="1083.4" y="11.9" width="700.6" height="453" fill="none" stroke="#000" stroke-width="1.6"/>
<line x1="1433.7" x2="1433.7" y1="11.9" y2="464.9" stroke="#000" stroke-width="1.6"/>
<line x1="1083.4" x2="1784.0" y1="238.2" y2="238.2" stroke="#000" stroke-width="1.6"/>
<path d="M1108.42,238.2V230.7 M1133.44,238.2V234.2 M1158.46,238.2V230.7 M1183.49,238.2V234.2 M1208.51,238.2V230.7 M1233.53,238.2V234.2 M1258.55,238.2V230.7 M1283.57,238.2V234.2 M1308.59,238.2V230.7 M1333.61,238.2V234.2 M1358.64,238.2V230.7 M1383.66,238.2V234.2 M1408.68,238.2V230.7 M1108.42,464.9V457.4 M1133.44,464.9V460.9 M1158.46,464.9V457.4 M1183.49,464.9V460.9 M1208.51,464.9V457.4 M1233.53,464.9V460.9 M1258.55,464.9V457.4 M1283.57,464.9V460.9 M1308.59,464.9V457.4 M1333.61,464.9V460.9 M1358.64,464.9V457.4 M1383.66,464.9V460.9 M1408.68,464.9V457.4 M1458.72,238.2V230.7 M1483.74,238.2V234.2 M1508.76,238.2V230.7 M1533.79,238.2V234.2 M1558.81,238.2V230.7 M1583.83,238.2V234.2 M1608.85,238.2V230.7 M1633.87,238.2V234.2 M1658.89,238.2V230.7 M1683.91,238.2V234.2 M1708.94,238.2V230.7 M1733.96,238.2V234.2 M1758.98,238.2V230.7 M1458.72,464.9V457.4 M1483.74,464.9V460.9 M1508.76,464.9V457.4 M1533.79,464.9V460.9 M1558.81,464.9V457.4 M1583.83,464.9V460.9 M1608.85,464.9V457.4 M1633.87,464.9V460.9 M1658.89,464.9V457.4 M1683.91,464.9V460.9 M1708.94,464.9V457.4 M1733.96,464.9V460.9 M1758.98,464.9V457.4 M1083.4,14.3H1090.9 M1083.4,41.15H1087.4 M1083.4,68H1090.9 M1083.4,94.85H1087.4 M1083.4,121.7H1090.9 M1083.4,148.55H1087.4 M1083.4,175.4H1090.9 M1083.4,202.25H1087.4 M1083.4,229.1H1090.9 M1784,39.3H1776.5 M1784,65.45H1780 M1784,91.6H1776.5 M1784,117.75H1780 M1784,143.9H1776.5 M1784,170.05H1780 M1784,196.2H1776.5 M1784,222.35H1780 M1083.4,253.25H1087.4 M1083.4,277.9H1090.9 M1083.4,302.55H1087.4 M1083.4,327.2H1090.9 M1083.4,351.85H1087.4 M1083.4,376.5H1090.9 M1083.4,401.15H1087.4 M1083.4,425.8H1090.9 M1083.4,450.45H1087.4 M1784,264.9H1776.5 M1784,296.2H1780 M1784,327.5H1776.5 M1784,358.8H1780 M1784,390.1H1776.5 M1784,421.4H1780 M1784,452.7H1776.5" fill="none" stroke="#000" stroke-width="1.4"/>
<g font-family='"Liberation Sans", Arial, Helvetica, sans-serif' font-size="20" fill="#000">
<text x="1076" y="20.8" text-anchor="end">147.0</text>
<text x="1076" y="74.5" text-anchor="end">146.7</text>
<text x="1076" y="128.2" text-anchor="end">146.4</text>
<text x="1076" y="181.9" text-anchor="end">146.1</text>
<text x="1076" y="235.6" text-anchor="end">145.8</text>
<text x="1076" y="285.1" text-anchor="end">225.5</text>
<text x="1076" y="334.4" text-anchor="end">225.0</text>
<text x="1076" y="383.7" text-anchor="end">224.5</text>
<text x="1076" y="433" text-anchor="end">224.0</text>
<text x="1792" y="45.3">209.5</text>
<text x="1792" y="97.6">209.0</text>
<text x="1792" y="149.9">208.5</text>
<text x="1792" y="202.2">208.0</text>
<text x="1792" y="271.1">260.5</text>
<text x="1792" y="333.7">260.0</text>
<text x="1792" y="396.3">259.5</text>
<text x="1792" y="458.9">259.0</text>
</g>
<g font-family='"Liberation Sans", Arial, Helvetica, sans-serif' font-size="24" fill="#000" text-anchor="middle">
<text x="1106.42" y="491.8">3</text>
<text x="1156.46" y="491.8">5</text>
<text x="1206.51" y="491.8">7</text>
<text x="1256.55" y="491.8">9</text>
<text x="1306.59" y="491.8">11</text>
<text x="1356.64" y="491.8">13</text>
<text x="1406.68" y="491.8">15</text>
<text x="1458.72" y="491.8">3</text>
<text x="1508.76" y="491.8">5</text>
<text x="1558.81" y="491.8">7</text>
<text x="1608.85" y="491.8">9</text>
<text x="1658.89" y="491.8">11</text>
<text x="1708.94" y="491.8">13</text>
<text x="1758.98" y="491.8">15</text>
</g>
<g font-family='"Liberation Sans", Arial, Helvetica, sans-serif' font-size="27.8" fill="#000">
<text x="1252.3" y="529.9" text-anchor="middle">Layer number</text>
<text x="1609.0" y="530.8" text-anchor="middle">Layer number</text>
</g>
<g font-family='"Liberation Sans", Arial, Helvetica, sans-serif' font-size="28" fill="#000">
<text transform="translate(960.8,347.5) rotate(-90)">Raman shift (cm<tspan font-size="19" dy="-12">-1</tspan><tspan dy="12">)</tspan></text>
<text transform="translate(1912.3,349.6) rotate(-90)">Raman shift (cm<tspan font-size="19" dy="-12">-1</tspan><tspan dy="12">)</tspan></text>
</g>
<line x1="1334.8" x2="1352.6" y1="37.2" y2="37.2" stroke="#ff00ff" stroke-width="2.1" stroke-linecap="round"/>
<line x1="1368.6" x2="1387.1" y1="37.2" y2="37.2" stroke="#ff00ff" stroke-width="2.1" stroke-linecap="round"/>
<rect x="1355" y="31.6" width="11.2" height="11.2" fill="#ff00ff"/>
<text x="1392.6" y="45.6" font-family='"Liberation Serif", "Times New Roman", Times, serif' font-size="24" fill="#000"><tspan font-style="italic">A</tspan><tspan font-size="15.84" dy="6.36">g</tspan><tspan font-size="15.84" dy="-16.32" dx="0.3">1</tspan></text>
<line x1="1671.9" x2="1691.3" y1="37.2" y2="37.2" stroke="#ff7a05" stroke-width="2.1" stroke-linecap="round"/>
<line x1="1704.3" x2="1724" y1="37.2" y2="37.2" stroke="#ff7a05" stroke-width="2.1" stroke-linecap="round"/>
<path d="M1697.8,29.3 L1705.4,37.2 L1697.8,45.1 L1690.2,37.2 Z" fill="#ff7a05"/>
<text x="1729.6" y="45" font-family='"Liberation Serif", "Times New Roman", Times, serif' font-size="24" fill="#000"><tspan font-style="italic">B</tspan><tspan font-size="15.84" dy="6.36">1g</tspan><tspan font-size="15.84" dy="-16.32" dx="-0.71">2</tspan></text>
<line x1="1338.8" x2="1356.5" y1="267.2" y2="267.2" stroke="#0000ff" stroke-width="2.1" stroke-linecap="round"/>
<line x1="1372.5" x2="1390.9" y1="267.2" y2="267.2" stroke="#0000ff" stroke-width="2.1" stroke-linecap="round"/>
<circle cx="1364.5" cy="267.2" r="6.1" fill="#0000ff"/>
<text x="1396.6" y="275.6" font-family='"Liberation Serif", "Times New Roman", Times, serif' font-size="24" fill="#000"><tspan font-style="italic">A</tspan><tspan font-size="15.84" dy="6.36">g</tspan><tspan font-size="15.84" dy="-16.32" dx="-0.71">2</tspan></text>
<line x1="1679.4" x2="1697.3" y1="268.1" y2="268.1" stroke="#ff0000" stroke-width="2.1" stroke-linecap="round"/>
<line x1="1713.3" x2="1731.5" y1="268.1" y2="268.1" stroke="#ff0000" stroke-width="2.1" stroke-linecap="round"/>
<path d="M1705.3,259.7 L1712.7,272.4 L1697.9,272.4 Z" fill="#ff0000"/>
<text x="1736.9" y="275.9" font-family='"Liberation Serif", "Times New Roman", Times, serif' font-size="24" fill="#000"><tspan font-style="italic">A</tspan><tspan font-size="15.84" dy="6.36">g</tspan><tspan font-size="15.84" dy="-16.32" dx="-0.71">3</tspan></text>
<text x="929.8" y="33.0" font-family='"Liberation Sans", Arial, Helvetica, sans-serif' font-weight="bold" font-size="44" fill="#000">b</text>
</g>
<g id="panel-c">
<g shape-rendering="crispEdges">
<rect x="1073.5" y="576.7" width="41.2" height="39.59" fill="#b2ff00"/>
<rect x="1114.1" y="576.7" width="41.2" height="39.59" fill="#8fff00"/>
<rect x="1154.7" y="576.7" width="41.2" height="39.59" fill="#a0ff00"/>
<rect x="1195.3" y="576.7" width="41.2" height="39.59" fill="#afff00"/>
<rect x="1235.9" y="576.7" width="41.2" height="39.59" fill="#c9ff00"/>
<rect x="1276.5" y="576.7" width="41.2" height="39.59" fill="#bdff00"/>
<rect x="1317.1" y="576.7" width="41.2" height="39.59" fill="#d3ff00"/>
<rect x="1073.5" y="615.69" width="41.2" height="39.59" fill="#b2ff00"/>
<rect x="1114.1" y="615.69" width="41.2" height="39.59" fill="#8fff00"/>
<rect x="1154.7" y="615.69" width="41.2" height="39.59" fill="#a0ff00"/>
<rect x="1195.3" y="615.69" width="41.2" height="39.59" fill="#afff00"/>
<rect x="1235.9" y="615.69" width="41.2" height="39.59" fill="#cfff00"/>
<rect x="1276.5" y="615.69" width="41.2" height="39.59" fill="#ccff00"/>
<rect x="1317.1" y="615.69" width="41.2" height="39.59" fill="#bdff00"/>
<rect x="1073.5" y="654.67" width="41.2" height="39.59" fill="#d5ff00"/>
<rect x="1114.1" y="654.67" width="41.2" height="39.59" fill="#8fff00"/>
<rect x="1154.7" y="654.67" width="41.2" height="39.59" fill="#99ff00"/>
<rect x="1195.3" y="654.67" width="41.2" height="39.59" fill="#a8ff00"/>
<rect x="1235.9" y="654.67" width="41.2" height="39.59" fill="#9dff00"/>
<rect x="1276.5" y="654.67" width="41.2" height="39.59" fill="#b3ff00"/>
<rect x="1317.1" y="654.67" width="41.2" height="39.59" fill="#afff00"/>
<rect x="1073.5" y="693.66" width="41.2" height="39.59" fill="#c2ff00"/>
<rect x="1114.1" y="693.66" width="41.2" height="39.59" fill="#a8ff00"/>
<rect x="1154.7" y="693.66" width="41.2" height="39.59" fill="#a0ff00"/>
<rect x="1195.3" y="693.66" width="41.2" height="39.59" fill="#8dff00"/>
<rect x="1235.9" y="693.66" width="41.2" height="39.59" fill="#a0ff00"/>
<rect x="1276.5" y="693.66" width="41.2" height="39.59" fill="#80ff00"/>
<rect x="1317.1" y="693.66" width="41.2" height="39.59" fill="#9aff00"/>
<rect x="1073.5" y="732.64" width="41.2" height="39.59" fill="#d3ff00"/>
<rect x="1114.1" y="732.64" width="41.2" height="39.59" fill="#83ff00"/>
<rect x="1154.7" y="732.64" width="41.2" height="39.59" fill="#92ff00"/>
<rect x="1195.3" y="732.64" width="41.2" height="39.59" fill="#95ff00"/>
<rect x="1235.9" y="732.64" width="41.2" height="39.59" fill="#a6ff00"/>
<rect x="1276.5" y="732.64" width="41.2" height="39.59" fill="#a8ff00"/>
<rect x="1317.1" y="732.64" width="41.2" height="39.59" fill="#bdff00"/>
<rect x="1073.5" y="771.63" width="41.2" height="39.59" fill="#8fff00"/>
<rect x="1114.1" y="771.63" width="41.2" height="39.59" fill="#7aff00"/>
<rect x="1154.7" y="771.63" width="41.2" height="39.59" fill="#8cff00"/>
<rect x="1195.3" y="771.63" width="41.2" height="39.59" fill="#9aff00"/>
<rect x="1235.9" y="771.63" width="41.2" height="39.59" fill="#a8ff00"/>
<rect x="1276.5" y="771.63" width="41.2" height="39.59" fill="#afff00"/>
<rect x="1317.1" y="771.63" width="41.2" height="39.59" fill="#bcff00"/>
<rect x="1073.5" y="810.61" width="41.2" height="39.59" fill="#a8ff00"/>
<rect x="1114.1" y="810.61" width="41.2" height="39.59" fill="#a8ff00"/>
<rect x="1154.7" y="810.61" width="41.2" height="39.59" fill="#a2ff00"/>
<rect x="1195.3" y="810.61" width="41.2" height="39.59" fill="#a0ff00"/>
<rect x="1235.9" y="810.61" width="41.2" height="39.59" fill="#88ff00"/>
<rect x="1276.5" y="810.61" width="41.2" height="39.59" fill="#88ff00"/>
<rect x="1317.1" y="810.61" width="41.2" height="39.59" fill="#80ff00"/>
</g>
<path d="M1073,576.7H1358.2 M1073,849.6H1358.2 M1073.5,576.2V850.1 M1357.7,576.2V850.1" fill="none" stroke="#1c2a12" stroke-width="1.1"/>
<text x="1083.4" y="603.6" font-family='"Liberation Sans", Arial, Helvetica, sans-serif' font-size="23.6" fill="#000">(i)</text>
<text x="1083.4" y="635.2" font-family='"Liberation Sans", Arial, Helvetica, sans-serif' font-size="23.6" fill="#000">146.8 cm<tspan font-size="15.6" dy="-10.2" dx="0.5">-1</tspan></text>
<rect x="1310" y="833.1" width="39" height="4.2" fill="#000"/>
<g shape-rendering="crispEdges">
<rect x="1425.4" y="575.4" width="40.79" height="39.49" fill="#0076ff"/>
<rect x="1465.59" y="575.4" width="40.79" height="39.49" fill="#0075ff"/>
<rect x="1505.77" y="575.4" width="40.79" height="39.49" fill="#0073ff"/>
<rect x="1545.96" y="575.4" width="40.79" height="39.49" fill="#0073ff"/>
<rect x="1586.14" y="575.4" width="40.79" height="39.49" fill="#0076ff"/>
<rect x="1626.33" y="575.4" width="40.79" height="39.49" fill="#0077ff"/>
<rect x="1666.51" y="575.4" width="40.79" height="39.49" fill="#0077ff"/>
<rect x="1425.4" y="614.29" width="40.79" height="39.49" fill="#0076ff"/>
<rect x="1465.59" y="614.29" width="40.79" height="39.49" fill="#0075ff"/>
<rect x="1505.77" y="614.29" width="40.79" height="39.49" fill="#0073ff"/>
<rect x="1545.96" y="614.29" width="40.79" height="39.49" fill="#0070ff"/>
<rect x="1586.14" y="614.29" width="40.79" height="39.49" fill="#0075ff"/>
<rect x="1626.33" y="614.29" width="40.79" height="39.49" fill="#0076ff"/>
<rect x="1666.51" y="614.29" width="40.79" height="39.49" fill="#0076ff"/>
<rect x="1425.4" y="653.17" width="40.79" height="39.49" fill="#0076ff"/>
<rect x="1465.59" y="653.17" width="40.79" height="39.49" fill="#006fff"/>
<rect x="1505.77" y="653.17" width="40.79" height="39.49" fill="#006fff"/>
<rect x="1545.96" y="653.17" width="40.79" height="39.49" fill="#006dff"/>
<rect x="1586.14" y="653.17" width="40.79" height="39.49" fill="#006fff"/>
<rect x="1626.33" y="653.17" width="40.79" height="39.49" fill="#0073ff"/>
<rect x="1666.51" y="653.17" width="40.79" height="39.49" fill="#0075ff"/>
<rect x="1425.4" y="692.06" width="40.79" height="39.49" fill="#0075ff"/>
<rect x="1465.59" y="692.06" width="40.79" height="39.49" fill="#006fff"/>
<rect x="1505.77" y="692.06" width="40.79" height="39.49" fill="#006fff"/>
<rect x="1545.96" y="692.06" width="40.79" height="39.49" fill="#006dff"/>
<rect x="1586.14" y="692.06" width="40.79" height="39.49" fill="#006bff"/>
<rect x="1626.33" y="692.06" width="40.79" height="39.49" fill="#0070ff"/>
<rect x="1666.51" y="692.06" width="40.79" height="39.49" fill="#0073ff"/>
<rect x="1425.4" y="730.94" width="40.79" height="39.49" fill="#0073ff"/>
<rect x="1465.59" y="730.94" width="40.79" height="39.49" fill="#006fff"/>
<rect x="1505.77" y="730.94" width="40.79" height="39.49" fill="#006dff"/>
<rect x="1545.96" y="730.94" width="40.79" height="39.49" fill="#006aff"/>
<rect x="1586.14" y="730.94" width="40.79" height="39.49" fill="#006dff"/>
<rect x="1626.33" y="730.94" width="40.79" height="39.49" fill="#0070ff"/>
<rect x="1666.51" y="730.94" width="40.79" height="39.49" fill="#0073ff"/>
<rect x="1425.4" y="769.83" width="40.79" height="39.49" fill="#0073ff"/>
<rect x="1465.59" y="769.83" width="40.79" height="39.49" fill="#006fff"/>
<rect x="1505.77" y="769.83" width="40.79" height="39.49" fill="#006dff"/>
<rect x="1545.96" y="769.83" width="40.79" height="39.49" fill="#006dff"/>
<rect x="1586.14" y="769.83" width="40.79" height="39.49" fill="#006dff"/>
<rect x="1626.33" y="769.83" width="40.79" height="39.49" fill="#0070ff"/>
<rect x="1666.51" y="769.83" width="40.79" height="39.49" fill="#0073ff"/>
<rect x="1425.4" y="808.71" width="40.79" height="39.49" fill="#0073ff"/>
<rect x="1465.59" y="808.71" width="40.79" height="39.49" fill="#006cff"/>
<rect x="1505.77" y="808.71" width="40.79" height="39.49" fill="#006fff"/>
<rect x="1545.96" y="808.71" width="40.79" height="39.49" fill="#006fff"/>
<rect x="1586.14" y="808.71" width="40.79" height="39.49" fill="#006fff"/>
<rect x="1626.33" y="808.71" width="40.79" height="39.49" fill="#0075ff"/>
<rect x="1666.51" y="808.71" width="40.79" height="39.49" fill="#0073ff"/>
</g>
<path d="M1424.9,575.4H1707.2 M1424.9,847.6H1707.2 M1425.4,574.9V848.1" fill="none" stroke="#10182c" stroke-width="1.1"/>
<text x="1435" y="604.8" font-family='"Liberation Sans", Arial, Helvetica, sans-serif' font-size="23.6" fill="#fff">(ii)</text>
<text x="1435" y="635.6" font-family='"Liberation Sans", Arial, Helvetica, sans-serif' font-size="23.6" fill="#fff">208.6 cm<tspan font-size="15.6" dy="-10.2" dx="0.5">-1</tspan></text>
<rect x="1663.4" y="835.6" width="40" height="4.3" fill="#fff"/>
<g shape-rendering="crispEdges">
<rect x="1074.5" y="883.3" width="40.87" height="39.19" fill="#0090ff"/>
<rect x="1114.77" y="883.3" width="40.87" height="39.19" fill="#0093ff"/>
<rect x="1155.04" y="883.3" width="40.87" height="39.19" fill="#0093ff"/>
<rect x="1195.31" y="883.3" width="40.87" height="39.19" fill="#0093ff"/>
<rect x="1235.59" y="883.3" width="40.87" height="39.19" fill="#0090ff"/>
<rect x="1275.86" y="883.3" width="40.87" height="39.19" fill="#0092ff"/>
<rect x="1316.13" y="883.3" width="40.87" height="39.19" fill="#0094ff"/>
<rect x="1074.5" y="921.89" width="40.87" height="39.19" fill="#0092ff"/>
<rect x="1114.77" y="921.89" width="40.87" height="39.19" fill="#0090ff"/>
<rect x="1155.04" y="921.89" width="40.87" height="39.19" fill="#0091ff"/>
<rect x="1195.31" y="921.89" width="40.87" height="39.19" fill="#0093ff"/>
<rect x="1235.59" y="921.89" width="40.87" height="39.19" fill="#0095ff"/>
<rect x="1275.86" y="921.89" width="40.87" height="39.19" fill="#0093ff"/>
<rect x="1316.13" y="921.89" width="40.87" height="39.19" fill="#0093ff"/>
<rect x="1074.5" y="960.47" width="40.87" height="39.19" fill="#0090ff"/>
<rect x="1114.77" y="960.47" width="40.87" height="39.19" fill="#0090ff"/>
<rect x="1155.04" y="960.47" width="40.87" height="39.19" fill="#0090ff"/>
<rect x="1195.31" y="960.47" width="40.87" height="39.19" fill="#0092ff"/>
<rect x="1235.59" y="960.47" width="40.87" height="39.19" fill="#0092ff"/>
<rect x="1275.86" y="960.47" width="40.87" height="39.19" fill="#0090ff"/>
<rect x="1316.13" y="960.47" width="40.87" height="39.19" fill="#0092ff"/>
<rect x="1074.5" y="999.06" width="40.87" height="39.19" fill="#0090ff"/>
<rect x="1114.77" y="999.06" width="40.87" height="39.19" fill="#0090ff"/>
<rect x="1155.04" y="999.06" width="40.87" height="39.19" fill="#008aff"/>
<rect x="1195.31" y="999.06" width="40.87" height="39.19" fill="#008cff"/>
<rect x="1235.59" y="999.06" width="40.87" height="39.19" fill="#008eff"/>
<rect x="1275.86" y="999.06" width="40.87" height="39.19" fill="#0089ff"/>
<rect x="1316.13" y="999.06" width="40.87" height="39.19" fill="#008dff"/>
<rect x="1074.5" y="1037.64" width="40.87" height="39.19" fill="#008eff"/>
<rect x="1114.77" y="1037.64" width="40.87" height="39.19" fill="#008aff"/>
<rect x="1155.04" y="1037.64" width="40.87" height="39.19" fill="#0088ff"/>
<rect x="1195.31" y="1037.64" width="40.87" height="39.19" fill="#0088ff"/>
<rect x="1235.59" y="1037.64" width="40.87" height="39.19" fill="#008cff"/>
<rect x="1275.86" y="1037.64" width="40.87" height="39.19" fill="#008cff"/>
<rect x="1316.13" y="1037.64" width="40.87" height="39.19" fill="#0092ff"/>
<rect x="1074.5" y="1076.23" width="40.87" height="39.19" fill="#008eff"/>
<rect x="1114.77" y="1076.23" width="40.87" height="39.19" fill="#0088ff"/>
<rect x="1155.04" y="1076.23" width="40.87" height="39.19" fill="#008aff"/>
<rect x="1195.31" y="1076.23" width="40.87" height="39.19" fill="#0088ff"/>
<rect x="1235.59" y="1076.23" width="40.87" height="39.19" fill="#008cff"/>
<rect x="1275.86" y="1076.23" width="40.87" height="39.19" fill="#008eff"/>
<rect x="1316.13" y="1076.23" width="40.87" height="39.19" fill="#0090ff"/>
<rect x="1074.5" y="1114.81" width="40.87" height="39.19" fill="#008eff"/>
<rect x="1114.77" y="1114.81" width="40.87" height="39.19" fill="#008cff"/>
<rect x="1155.04" y="1114.81" width="40.87" height="39.19" fill="#008aff"/>
<rect x="1195.31" y="1114.81" width="40.87" height="39.19" fill="#008aff"/>
<rect x="1235.59" y="1114.81" width="40.87" height="39.19" fill="#0085ff"/>
<rect x="1275.86" y="1114.81" width="40.87" height="39.19" fill="#008cff"/>
<rect x="1316.13" y="1114.81" width="40.87" height="39.19" fill="#0088ff"/>
</g>
<path d="M1074,883.3H1356.9 M1074,1153.4H1356.9 M1074.5,882.8V1153.9 M1356.4,882.8V1153.9" fill="none" stroke="#141c2c" stroke-width="1.1"/>
<text x="1085" y="910.4" font-family='"Liberation Sans", Arial, Helvetica, sans-serif' font-size="23.6" fill="#fff">(iii)</text>
<text x="1085" y="942.2" font-family='"Liberation Sans", Arial, Helvetica, sans-serif' font-size="23.6" fill="#fff">224.1cm<tspan font-size="15.6" dy="-10.2" dx="0.5">-1</tspan></text>
<rect x="1305.5" y="1142.9" width="39.8" height="3.9" fill="#fff"/>
<g shape-rendering="crispEdges">
<rect x="1424" y="882.5" width="40.86" height="39.27" fill="#ff2400"/>
<rect x="1464.26" y="882.5" width="40.86" height="39.27" fill="#ff4c00"/>
<rect x="1504.51" y="882.5" width="40.86" height="39.27" fill="#ff3a00"/>
<rect x="1544.77" y="882.5" width="40.86" height="39.27" fill="#ff3200"/>
<rect x="1585.03" y="882.5" width="40.86" height="39.27" fill="#ff3200"/>
<rect x="1625.29" y="882.5" width="40.86" height="39.27" fill="#ff4900"/>
<rect x="1665.54" y="882.5" width="40.86" height="39.27" fill="#ff4300"/>
<rect x="1424" y="921.17" width="40.86" height="39.27" fill="#ff3300"/>
<rect x="1464.26" y="921.17" width="40.86" height="39.27" fill="#ff4c00"/>
<rect x="1504.51" y="921.17" width="40.86" height="39.27" fill="#ff4900"/>
<rect x="1544.77" y="921.17" width="40.86" height="39.27" fill="#ff4200"/>
<rect x="1585.03" y="921.17" width="40.86" height="39.27" fill="#ff3200"/>
<rect x="1625.29" y="921.17" width="40.86" height="39.27" fill="#ff1d00"/>
<rect x="1665.54" y="921.17" width="40.86" height="39.27" fill="#ff4c00"/>
<rect x="1424" y="959.84" width="40.86" height="39.27" fill="#ff2300"/>
<rect x="1464.26" y="959.84" width="40.86" height="39.27" fill="#ff6600"/>
<rect x="1504.51" y="959.84" width="40.86" height="39.27" fill="#ff4c00"/>
<rect x="1544.77" y="959.84" width="40.86" height="39.27" fill="#ff4300"/>
<rect x="1585.03" y="959.84" width="40.86" height="39.27" fill="#ff5300"/>
<rect x="1625.29" y="959.84" width="40.86" height="39.27" fill="#ff3a00"/>
<rect x="1665.54" y="959.84" width="40.86" height="39.27" fill="#ff3300"/>
<rect x="1424" y="998.51" width="40.86" height="39.27" fill="#ff3200"/>
<rect x="1464.26" y="998.51" width="40.86" height="39.27" fill="#ff5000"/>
<rect x="1504.51" y="998.51" width="40.86" height="39.27" fill="#ff5700"/>
<rect x="1544.77" y="998.51" width="40.86" height="39.27" fill="#ff7000"/>
<rect x="1585.03" y="998.51" width="40.86" height="39.27" fill="#ff5000"/>
<rect x="1625.29" y="998.51" width="40.86" height="39.27" fill="#ff7900"/>
<rect x="1665.54" y="998.51" width="40.86" height="39.27" fill="#ff5300"/>
<rect x="1424" y="1037.19" width="40.86" height="39.27" fill="#ff3200"/>
<rect x="1464.26" y="1037.19" width="40.86" height="39.27" fill="#ff5700"/>
<rect x="1504.51" y="1037.19" width="40.86" height="39.27" fill="#ff5700"/>
<rect x="1544.77" y="1037.19" width="40.86" height="39.27" fill="#ff6600"/>
<rect x="1585.03" y="1037.19" width="40.86" height="39.27" fill="#ff4900"/>
<rect x="1625.29" y="1037.19" width="40.86" height="39.27" fill="#ff5700"/>
<rect x="1665.54" y="1037.19" width="40.86" height="39.27" fill="#ff3a00"/>
<rect x="1424" y="1075.86" width="40.86" height="39.27" fill="#ff6900"/>
<rect x="1464.26" y="1075.86" width="40.86" height="39.27" fill="#ff6200"/>
<rect x="1504.51" y="1075.86" width="40.86" height="39.27" fill="#ff6c00"/>
<rect x="1544.77" y="1075.86" width="40.86" height="39.27" fill="#ff5f00"/>
<rect x="1585.03" y="1075.86" width="40.86" height="39.27" fill="#ff5000"/>
<rect x="1625.29" y="1075.86" width="40.86" height="39.27" fill="#ff4900"/>
<rect x="1665.54" y="1075.86" width="40.86" height="39.27" fill="#ff3c00"/>
<rect x="1424" y="1114.53" width="40.86" height="39.27" fill="#ff5700"/>
<rect x="1464.26" y="1114.53" width="40.86" height="39.27" fill="#ff5700"/>
<rect x="1504.51" y="1114.53" width="40.86" height="39.27" fill="#ff5700"/>
<rect x="1544.77" y="1114.53" width="40.86" height="39.27" fill="#ff5c00"/>
<rect x="1585.03" y="1114.53" width="40.86" height="39.27" fill="#ff7600"/>
<rect x="1625.29" y="1114.53" width="40.86" height="39.27" fill="#ff7000"/>
<rect x="1665.54" y="1114.53" width="40.86" height="39.27" fill="#ff6200"/>
</g>
<path d="M1423.5,882.5H1706.3 M1423.5,1153.2H1706.3 M1424,882V1153.7 M1705.8,882V1153.7" fill="none" stroke="#2a1410" stroke-width="1.1"/>
<text x="1434.4" y="909.5" font-family='"Liberation Sans", Arial, Helvetica, sans-serif' font-size="23.6" fill="#fff">(iv)</text>
<text x="1434.4" y="941.7" font-family='"Liberation Sans", Arial, Helvetica, sans-serif' font-size="23.6" fill="#fff">146.8 cm<tspan font-size="15.6" dy="-10.2" dx="0.5">-1</tspan></text>
<rect x="1655.5" y="1141.6" width="39.8" height="4.3" fill="#fff"/>
<defs><linearGradient id="cb" x1="0" y1="1" x2="0" y2="0"><stop offset="0" stop-color="#0000ff"/><stop offset="0.25" stop-color="#00ffff"/><stop offset="0.5" stop-color="#00ff00"/><stop offset="0.75" stop-color="#ffff00"/><stop offset="1" stop-color="#ff0000"/></linearGradient></defs>
<rect x="1761.5" y="575.3" width="54.1" height="576" fill="url(#cb)" stroke="#000" stroke-width="1.5"/>
<path d="M1815.6,1151.3h11.0 M1815.6,1110.16h6.0 M1815.6,1069.01h11.0 M1815.6,1027.87h6.0 M1815.6,986.73h11.0 M1815.6,945.59h6.0 M1815.6,904.44h11.0 M1815.6,863.3h6.0 M1815.6,822.16h11.0 M1815.6,781.01h6.0 M1815.6,739.87h11.0 M1815.6,698.73h6.0 M1815.6,657.59h11.0 M1815.6,616.44h6.0 M1815.6,575.3h11.0" fill="none" stroke="#000" stroke-width="1.9"/>
<g font-family='"Liberation Sans", Arial, Helvetica, sans-serif' font-size="21.8" fill="#000">
<text x="1835.2" y="1158.6">0.000</text>
<text x="1835.2" y="1076.31">1000</text>
<text x="1835.2" y="994.03">2000</text>
<text x="1835.2" y="911.74">3000</text>
<text x="1835.2" y="829.46">4000</text>
<text x="1835.2" y="747.17">5000</text>
<text x="1835.2" y="664.89">6000</text>
<text x="1835.2" y="582.6">7000</text>
</g>
<text transform="translate(1912.8,953.4) rotate(-90)" font-family='"Liberation Sans", Arial, Helvetica, sans-serif' font-size="30" fill="#000">Intensity(a.u.)</text>
<text x="938" y="600" font-family='"Liberation Sans", Arial, Helvetica, sans-serif' font-weight="bold" font-size="44" fill="#000">c</text>
</g>
</svg></body></html>
